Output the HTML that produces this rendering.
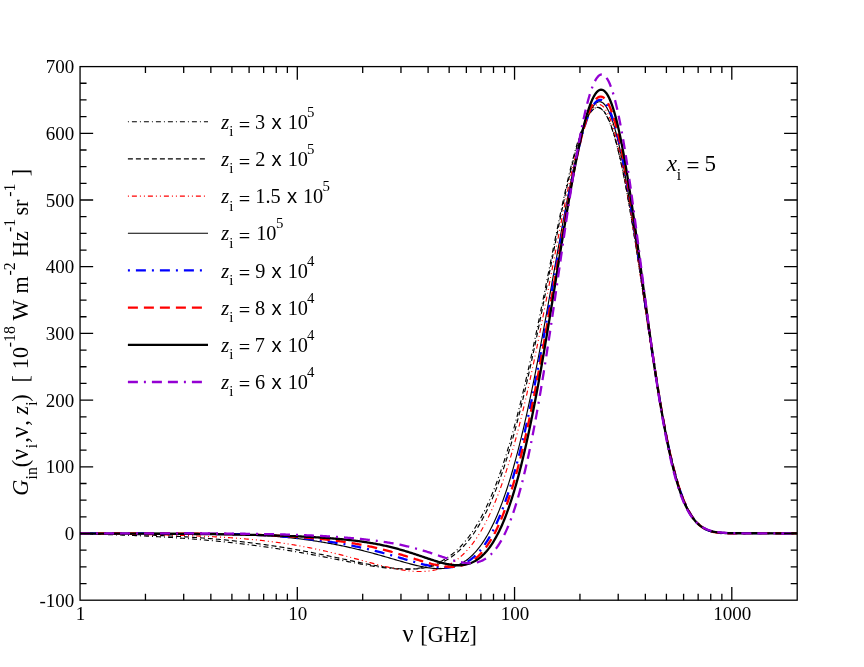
<!DOCTYPE html>
<html><head><meta charset="utf-8"><title>G_in</title>
<style>
html,body{margin:0;padding:0;background:#fff;}
body{width:864px;height:667px;overflow:hidden;}
svg{display:block;will-change:transform;}
text{font-family:"Liberation Serif",serif;fill:#000;white-space:pre;}
.sans{font-family:"Liberation Sans",sans-serif;}
.it{font-style:italic;}
</style></head><body>
<svg width="864" height="667" viewBox="0 0 864 667">
<rect width="864" height="667" fill="#fff"/>
<defs><clipPath id="cp"><rect x="80.05" y="66.6" width="717.15" height="533.6"/></clipPath></defs>
<g clip-path="url(#cp)" fill="none" stroke-linejoin="round">
<path d="M80.05 533.98 L81.05 534 L82.05 534.01 L83.05 534.03 L84.05 534.05 L85.05 534.07 L86.05 534.09 L87.05 534.11 L88.05 534.13 L89.05 534.15 L90.05 534.17 L91.05 534.19 L92.05 534.21 L93.05 534.23 L94.05 534.25 L95.05 534.28 L96.05 534.3 L97.05 534.32 L98.05 534.35 L99.05 534.37 L100.05 534.4 L101.05 534.42 L102.05 534.45 L103.05 534.48 L104.05 534.5 L105.05 534.53 L106.05 534.56 L107.05 534.59 L108.05 534.61 L109.05 534.64 L110.05 534.67 L111.05 534.7 L112.05 534.73 L113.05 534.76 L114.05 534.8 L115.05 534.83 L116.05 534.86 L117.05 534.89 L118.05 534.93 L119.05 534.96 L120.05 535 L121.05 535.03 L122.05 535.07 L123.05 535.1 L124.05 535.14 L125.05 535.18 L126.05 535.21 L127.05 535.25 L128.05 535.29 L129.05 535.33 L130.05 535.37 L131.05 535.41 L132.05 535.45 L133.05 535.49 L134.05 535.53 L135.05 535.58 L136.05 535.62 L137.05 535.66 L138.05 535.71 L139.05 535.75 L140.05 535.8 L141.05 535.84 L142.05 535.89 L143.05 535.93 L144.05 535.98 L145.05 536.03 L146.05 536.08 L147.05 536.13 L148.05 536.18 L149.05 536.23 L150.05 536.28 L151.05 536.33 L152.05 536.38 L153.05 536.43 L154.05 536.49 L155.05 536.54 L156.05 536.59 L157.05 536.65 L158.05 536.7 L159.05 536.76 L160.05 536.82 L161.05 536.87 L162.05 536.93 L163.05 536.99 L164.05 537.05 L165.05 537.11 L166.05 537.17 L167.05 537.23 L168.05 537.29 L169.05 537.35 L170.05 537.42 L171.05 537.48 L172.05 537.54 L173.05 537.61 L174.05 537.67 L175.05 537.74 L176.05 537.81 L177.05 537.87 L178.05 537.94 L179.05 538.01 L180.05 538.08 L181.05 538.15 L182.05 538.22 L183.05 538.29 L184.05 538.36 L185.05 538.44 L186.05 538.51 L187.05 538.58 L188.05 538.66 L189.05 538.73 L190.05 538.81 L191.05 538.89 L192.05 538.96 L193.05 539.04 L194.05 539.12 L195.05 539.2 L196.05 539.28 L197.05 539.36 L198.05 539.44 L199.05 539.53 L200.05 539.61 L201.05 539.7 L202.05 539.78 L203.05 539.87 L204.05 539.95 L205.05 540.04 L206.05 540.13 L207.05 540.22 L208.05 540.31 L209.05 540.4 L210.05 540.49 L211.05 540.58 L212.05 540.67 L213.05 540.77 L214.05 540.86 L215.05 540.96 L216.05 541.05 L217.05 541.15 L218.05 541.25 L219.05 541.35 L220.05 541.45 L221.05 541.55 L222.05 541.65 L223.05 541.75 L224.05 541.85 L225.05 541.96 L226.05 542.06 L227.05 542.17 L228.05 542.27 L229.05 542.38 L230.05 542.49 L231.05 542.6 L232.05 542.71 L233.05 542.82 L234.05 542.93 L235.05 543.04 L236.05 543.16 L237.05 543.27 L238.05 543.39 L239.05 543.5 L240.05 543.62 L241.05 543.74 L242.05 543.86 L243.05 543.98 L244.05 544.1 L245.05 544.22 L246.05 544.34 L247.05 544.47 L248.05 544.59 L249.05 544.72 L250.05 544.84 L251.05 544.97 L252.05 545.1 L253.05 545.23 L254.05 545.36 L255.05 545.49 L256.05 545.63 L257.05 545.76 L258.05 545.89 L259.05 546.03 L260.05 546.17 L261.05 546.3 L262.05 546.44 L263.05 546.58 L264.05 546.72 L265.05 546.86 L266.05 547.01 L267.05 547.15 L268.05 547.29 L269.05 547.44 L270.05 547.59 L271.05 547.74 L272.05 547.88 L273.05 548.03 L274.05 548.18 L275.05 548.34 L276.05 548.49 L277.05 548.64 L278.05 548.8 L279.05 548.95 L280.05 549.11 L281.05 549.27 L282.05 549.43 L283.05 549.59 L284.05 549.75 L285.05 549.91 L286.05 550.07 L287.05 550.24 L288.05 550.4 L289.05 550.57 L290.05 550.73 L291.05 550.9 L292.05 551.07 L293.05 551.24 L294.05 551.41 L295.05 551.58 L296.05 551.75 L297.05 551.93 L298.05 552.1 L299.05 552.28 L300.05 552.45 L301.05 552.63 L302.05 552.81 L303.05 552.99 L304.05 553.16 L305.05 553.35 L306.05 553.53 L307.05 553.71 L308.05 553.89 L309.05 554.08 L310.05 554.26 L311.05 554.45 L312.05 554.63 L313.05 554.82 L314.05 555.01 L315.05 555.19 L316.05 555.38 L317.05 555.57 L318.05 555.76 L319.05 555.95 L320.05 556.14 L321.05 556.34 L322.05 556.53 L323.05 556.72 L324.05 556.92 L325.05 557.11 L326.05 557.3 L327.05 557.5 L328.05 557.69 L329.05 557.89 L330.05 558.09 L331.05 558.28 L332.05 558.48 L333.05 558.67 L334.05 558.87 L335.05 559.07 L336.05 559.27 L337.05 559.46 L338.05 559.66 L339.05 559.86 L340.05 560.05 L341.05 560.25 L342.05 560.45 L343.05 560.65 L344.05 560.84 L345.05 561.04 L346.05 561.23 L347.05 561.43 L348.05 561.63 L349.05 561.82 L350.05 562.01 L351.05 562.21 L352.05 562.4 L353.05 562.59 L354.05 562.78 L355.05 562.97 L356.05 563.16 L357.05 563.35 L358.05 563.54 L359.05 563.72 L360.05 563.91 L361.05 564.09 L362.05 564.27 L363.05 564.45 L364.05 564.63 L365.05 564.81 L366.05 564.98 L367.05 565.16 L368.05 565.33 L369.05 565.5 L370.05 565.66 L371.05 565.83 L372.05 565.99 L373.05 566.15 L374.05 566.31 L375.05 566.46 L376.05 566.61 L377.05 566.76 L378.05 566.91 L379.05 567.05 L380.05 567.19 L381.05 567.33 L382.05 567.46 L383.05 567.59 L384.05 567.71 L385.05 567.83 L386.05 567.94 L387.05 568.06 L388.05 568.16 L389.05 568.26 L390.05 568.36 L391.05 568.45 L392.05 568.54 L393.05 568.62 L394.05 568.7 L395.05 568.77 L396.05 568.83 L397.05 568.89 L398.05 568.94 L399.05 568.98 L400.05 569.02 L401.05 569.05 L402.05 569.08 L403.05 569.09 L404.05 569.1 L405.05 569.1 L406.05 569.09 L407.05 569.08 L408.05 569.05 L409.05 569.02 L410.05 568.97 L411.05 568.92 L412.05 568.86 L413.05 568.78 L414.05 568.7 L415.05 568.6 L416.05 568.5 L417.05 568.38 L418.05 568.25 L419.05 568.11 L420.05 567.96 L421.05 567.8 L422.05 567.62 L423.05 567.43 L424.05 567.22 L425.05 567 L426.05 566.77 L427.05 566.52 L428.05 566.25 L429.05 565.97 L430.05 565.68 L431.05 565.37 L432.05 565.04 L433.05 564.69 L434.05 564.33 L435.05 563.95 L436.05 563.55 L437.05 563.13 L438.05 562.69 L439.05 562.23 L440.05 561.75 L441.05 561.25 L442.05 560.73 L443.05 560.18 L444.05 559.62 L445.05 559.03 L446.05 558.42 L447.05 557.78 L448.05 557.12 L449.05 556.43 L450.05 555.72 L451.05 554.98 L452.05 554.22 L453.05 553.42 L454.05 552.6 L455.05 551.75 L456.05 550.87 L457.05 549.97 L458.05 549.03 L459.05 548.06 L460.05 547.05 L461.05 546.02 L462.05 544.95 L463.05 543.85 L464.05 542.72 L465.05 541.55 L466.05 540.34 L467.05 539.1 L468.05 537.82 L469.05 536.5 L470.05 535.15 L471.05 533.75 L472.05 532.32 L473.05 530.84 L474.05 529.33 L475.05 527.77 L476.05 526.17 L477.05 524.52 L478.05 522.84 L479.05 521.1 L480.05 519.33 L481.05 517.5 L482.05 515.63 L483.05 513.71 L484.05 511.75 L485.05 509.73 L486.05 507.67 L487.05 505.55 L488.05 503.39 L489.05 501.17 L490.05 498.9 L491.05 496.58 L492.05 494.21 L493.05 491.78 L494.05 489.3 L495.05 486.76 L496.05 484.17 L497.05 481.52 L498.05 478.81 L499.05 476.05 L500.05 473.23 L501.05 470.36 L502.05 467.42 L503.05 464.43 L504.05 461.38 L505.05 458.27 L506.05 455.1 L507.05 451.88 L508.05 448.59 L509.05 445.24 L510.05 441.84 L511.05 438.37 L512.05 434.85 L513.05 431.26 L514.05 427.62 L515.05 423.92 L516.05 420.16 L517.05 416.34 L518.05 412.47 L519.05 408.53 L520.05 404.54 L521.05 400.5 L522.05 396.39 L523.05 392.24 L524.05 388.03 L525.05 383.77 L526.05 379.45 L527.05 375.09 L528.05 370.67 L529.05 366.21 L530.05 361.7 L531.05 357.14 L532.05 352.54 L533.05 347.9 L534.05 343.22 L535.05 338.5 L536.05 333.74 L537.05 328.95 L538.05 324.12 L539.05 319.27 L540.05 314.38 L541.05 309.47 L542.05 304.54 L543.05 299.59 L544.05 294.62 L545.05 289.63 L546.05 284.64 L547.05 279.63 L548.05 274.62 L549.05 269.61 L550.05 264.59 L551.05 259.59 L552.05 254.59 L553.05 249.6 L554.05 244.63 L555.05 239.67 L556.05 234.74 L557.05 229.84 L558.05 224.97 L559.05 220.13 L560.05 215.34 L561.05 210.58 L562.05 205.88 L563.05 201.23 L564.05 196.64 L565.05 192.1 L566.05 187.64 L567.05 183.25 L568.05 178.93 L569.05 174.69 L570.05 170.54 L571.05 166.48 L572.05 162.51 L573.05 158.65 L574.05 154.89 L575.05 151.23 L576.05 147.7 L577.05 144.28 L578.05 140.98 L579.05 137.81 L580.05 134.78 L581.05 131.88 L582.05 129.12 L583.05 126.51 L584.05 124.05 L585.05 121.74 L586.05 119.59 L587.05 117.61 L588.05 115.79 L589.05 114.14 L590.05 112.67 L591.05 111.37 L592.05 110.25 L593.05 109.32 L594.05 108.57 L595.05 108.01 L596.05 107.65 L597.05 107.47 L598.05 107.5 L599.05 107.72 L600.05 108.14 L601.05 108.76 L602.05 109.59 L603.05 110.61 L604.05 111.85 L605.05 113.28 L606.05 114.92 L607.05 116.76 L608.05 118.81 L609.05 121.06 L610.05 123.51 L611.05 126.16 L612.05 129.02 L613.05 132.06 L614.05 135.31 L615.05 138.74 L616.05 142.36 L617.05 146.17 L618.05 150.16 L619.05 154.33 L620.05 158.68 L621.05 163.19 L622.05 167.87 L623.05 172.71 L624.05 177.7 L625.05 182.85 L626.05 188.14 L627.05 193.56 L628.05 199.12 L629.05 204.8 L630.05 210.6 L631.05 216.52 L632.05 222.53 L633.05 228.65 L634.05 234.85 L635.05 241.13 L636.05 247.49 L637.05 253.91 L638.05 260.4 L639.05 266.93 L640.05 273.5 L641.05 280.11 L642.05 286.74 L643.05 293.39 L644.05 300.05 L645.05 306.71 L646.05 313.36 L647.05 320 L648.05 326.61 L649.05 333.19 L650.05 339.73 L651.05 346.23 L652.05 352.67 L653.05 359.06 L654.05 365.37 L655.05 371.61 L656.05 377.77 L657.05 383.84 L658.05 389.82 L659.05 395.7 L660.05 401.47 L661.05 407.14 L662.05 412.69 L663.05 418.12 L664.05 423.43 L665.05 428.61 L666.05 433.66 L667.05 438.58 L668.05 443.37 L669.05 448.01 L670.05 452.52 L671.05 456.88 L672.05 461.11 L673.05 465.19 L674.05 469.12 L675.05 472.91 L676.05 476.56 L677.05 480.06 L678.05 483.42 L679.05 486.64 L680.05 489.71 L681.05 492.65 L682.05 495.45 L683.05 498.12 L684.05 500.65 L685.05 503.05 L686.05 505.33 L687.05 507.48 L688.05 509.52 L689.05 511.43 L690.05 513.23 L691.05 514.92 L692.05 516.5 L693.05 517.99 L694.05 519.37 L695.05 520.65 L696.05 521.85 L697.05 522.96 L698.05 523.98 L699.05 524.93 L700.05 525.8 L701.05 526.59 L702.05 527.32 L703.05 527.99 L704.05 528.6 L705.05 529.15 L706.05 529.65 L707.05 530.1 L708.05 530.5 L709.05 530.86 L710.05 531.18 L711.05 531.46 L712.05 531.72 L713.05 531.94 L714.05 532.13 L715.05 532.29 L716.05 532.44 L717.05 532.56 L718.05 532.66 L719.05 532.75 L720.05 532.82 L721.05 532.88 L722.05 532.92 L723.05 532.96 L724.05 532.99 L725.05 533 L726.05 533.02 L727.05 533.03 L728.05 533.03 L729.05 533.03 L730.05 533.03 L731.05 533.02 L732.05 533.01 L733.05 533.01 L734.05 533 L735.05 532.99 L736.05 532.98 L737.05 532.97 L738.05 532.97 L739.05 532.96 L740.05 532.95 L741.05 532.95 L742.05 532.95 L743.05 532.95 L744.05 532.95 L745.05 532.95 L746.05 532.95 L747.05 532.95 L748.05 532.96 L749.05 532.97 L750.05 532.97 L751.05 532.98 L752.05 532.99 L753.05 533 L754.05 533.01 L755.05 533.02 L756.05 533.04 L757.05 533.05 L758.05 533.06 L759.05 533.08 L760.05 533.09 L761.05 533.1 L762.05 533.12 L763.05 533.13 L764.05 533.15 L765.05 533.16 L766.05 533.17 L767.05 533.19 L768.05 533.2 L769.05 533.22 L770.05 533.23 L771.05 533.24 L772.05 533.25 L773.05 533.27 L774.05 533.28 L775.05 533.29 L776.05 533.3 L777.05 533.31 L778.05 533.32 L779.05 533.33 L780.05 533.34 L781.05 533.35 L782.05 533.36 L783.05 533.37 L784.05 533.38 L785.05 533.39 L786.05 533.39 L787.05 533.4 L788.05 533.41 L789.05 533.41 L790.05 533.42 L791.05 533.42 L792.05 533.43 L793.05 533.43 L794.05 533.44 L795.05 533.44 L796.05 533.45 L797.2 533.45" stroke="#000" stroke-width="1.15" stroke-dasharray="1 3 5 3"/>
<path d="M80.05 533.7 L81.05 533.71 L82.05 533.72 L83.05 533.72 L84.05 533.73 L85.05 533.74 L86.05 533.75 L87.05 533.76 L88.05 533.77 L89.05 533.78 L90.05 533.79 L91.05 533.8 L92.05 533.81 L93.05 533.82 L94.05 533.84 L95.05 533.85 L96.05 533.86 L97.05 533.87 L98.05 533.89 L99.05 533.9 L100.05 533.91 L101.05 533.93 L102.05 533.94 L103.05 533.95 L104.05 533.97 L105.05 533.98 L106.05 534 L107.05 534.02 L108.05 534.03 L109.05 534.05 L110.05 534.07 L111.05 534.08 L112.05 534.1 L113.05 534.12 L114.05 534.14 L115.05 534.16 L116.05 534.18 L117.05 534.2 L118.05 534.22 L119.05 534.24 L120.05 534.26 L121.05 534.28 L122.05 534.3 L123.05 534.33 L124.05 534.35 L125.05 534.37 L126.05 534.4 L127.05 534.42 L128.05 534.44 L129.05 534.47 L130.05 534.5 L131.05 534.52 L132.05 534.55 L133.05 534.58 L134.05 534.6 L135.05 534.63 L136.05 534.66 L137.05 534.69 L138.05 534.72 L139.05 534.75 L140.05 534.78 L141.05 534.81 L142.05 534.84 L143.05 534.88 L144.05 534.91 L145.05 534.94 L146.05 534.98 L147.05 535.01 L148.05 535.05 L149.05 535.08 L150.05 535.12 L151.05 535.16 L152.05 535.2 L153.05 535.23 L154.05 535.27 L155.05 535.31 L156.05 535.35 L157.05 535.39 L158.05 535.43 L159.05 535.48 L160.05 535.52 L161.05 535.56 L162.05 535.61 L163.05 535.65 L164.05 535.7 L165.05 535.74 L166.05 535.79 L167.05 535.84 L168.05 535.89 L169.05 535.93 L170.05 535.98 L171.05 536.03 L172.05 536.08 L173.05 536.14 L174.05 536.19 L175.05 536.24 L176.05 536.3 L177.05 536.35 L178.05 536.41 L179.05 536.46 L180.05 536.52 L181.05 536.58 L182.05 536.63 L183.05 536.69 L184.05 536.75 L185.05 536.81 L186.05 536.87 L187.05 536.94 L188.05 537 L189.05 537.06 L190.05 537.13 L191.05 537.19 L192.05 537.26 L193.05 537.33 L194.05 537.4 L195.05 537.46 L196.05 537.53 L197.05 537.6 L198.05 537.68 L199.05 537.75 L200.05 537.82 L201.05 537.89 L202.05 537.97 L203.05 538.04 L204.05 538.12 L205.05 538.2 L206.05 538.28 L207.05 538.36 L208.05 538.44 L209.05 538.52 L210.05 538.6 L211.05 538.68 L212.05 538.77 L213.05 538.85 L214.05 538.94 L215.05 539.02 L216.05 539.11 L217.05 539.2 L218.05 539.29 L219.05 539.38 L220.05 539.47 L221.05 539.56 L222.05 539.66 L223.05 539.75 L224.05 539.85 L225.05 539.94 L226.05 540.04 L227.05 540.14 L228.05 540.24 L229.05 540.34 L230.05 540.44 L231.05 540.54 L232.05 540.65 L233.05 540.75 L234.05 540.86 L235.05 540.96 L236.05 541.07 L237.05 541.18 L238.05 541.29 L239.05 541.4 L240.05 541.51 L241.05 541.63 L242.05 541.74 L243.05 541.86 L244.05 541.97 L245.05 542.09 L246.05 542.21 L247.05 542.33 L248.05 542.45 L249.05 542.57 L250.05 542.7 L251.05 542.82 L252.05 542.95 L253.05 543.07 L254.05 543.2 L255.05 543.33 L256.05 543.46 L257.05 543.59 L258.05 543.72 L259.05 543.86 L260.05 543.99 L261.05 544.13 L262.05 544.27 L263.05 544.4 L264.05 544.54 L265.05 544.68 L266.05 544.83 L267.05 544.97 L268.05 545.11 L269.05 545.26 L270.05 545.41 L271.05 545.55 L272.05 545.7 L273.05 545.85 L274.05 546 L275.05 546.16 L276.05 546.31 L277.05 546.46 L278.05 546.62 L279.05 546.78 L280.05 546.94 L281.05 547.1 L282.05 547.26 L283.05 547.42 L284.05 547.58 L285.05 547.75 L286.05 547.91 L287.05 548.08 L288.05 548.25 L289.05 548.42 L290.05 548.59 L291.05 548.76 L292.05 548.93 L293.05 549.1 L294.05 549.28 L295.05 549.45 L296.05 549.63 L297.05 549.81 L298.05 549.99 L299.05 550.17 L300.05 550.35 L301.05 550.53 L302.05 550.72 L303.05 550.9 L304.05 551.09 L305.05 551.28 L306.05 551.46 L307.05 551.65 L308.05 551.84 L309.05 552.03 L310.05 552.23 L311.05 552.42 L312.05 552.61 L313.05 552.81 L314.05 553.01 L315.05 553.2 L316.05 553.4 L317.05 553.6 L318.05 553.8 L319.05 554 L320.05 554.2 L321.05 554.4 L322.05 554.6 L323.05 554.81 L324.05 555.01 L325.05 555.22 L326.05 555.42 L327.05 555.63 L328.05 555.84 L329.05 556.04 L330.05 556.25 L331.05 556.46 L332.05 556.67 L333.05 556.88 L334.05 557.09 L335.05 557.3 L336.05 557.51 L337.05 557.72 L338.05 557.93 L339.05 558.15 L340.05 558.36 L341.05 558.57 L342.05 558.78 L343.05 559 L344.05 559.21 L345.05 559.42 L346.05 559.63 L347.05 559.85 L348.05 560.06 L349.05 560.27 L350.05 560.48 L351.05 560.69 L352.05 560.9 L353.05 561.11 L354.05 561.32 L355.05 561.53 L356.05 561.74 L357.05 561.95 L358.05 562.16 L359.05 562.36 L360.05 562.57 L361.05 562.77 L362.05 562.97 L363.05 563.18 L364.05 563.38 L365.05 563.57 L366.05 563.77 L367.05 563.97 L368.05 564.16 L369.05 564.36 L370.05 564.55 L371.05 564.74 L372.05 564.92 L373.05 565.11 L374.05 565.29 L375.05 565.47 L376.05 565.65 L377.05 565.82 L378.05 565.99 L379.05 566.16 L380.05 566.33 L381.05 566.49 L382.05 566.65 L383.05 566.81 L384.05 566.96 L385.05 567.11 L386.05 567.26 L387.05 567.4 L388.05 567.53 L389.05 567.67 L390.05 567.8 L391.05 567.92 L392.05 568.04 L393.05 568.15 L394.05 568.26 L395.05 568.36 L396.05 568.46 L397.05 568.55 L398.05 568.64 L399.05 568.72 L400.05 568.79 L401.05 568.86 L402.05 568.92 L403.05 568.97 L404.05 569.01 L405.05 569.05 L406.05 569.08 L407.05 569.1 L408.05 569.12 L409.05 569.12 L410.05 569.12 L411.05 569.1 L412.05 569.08 L413.05 569.05 L414.05 569.01 L415.05 568.96 L416.05 568.89 L417.05 568.82 L418.05 568.73 L419.05 568.64 L420.05 568.53 L421.05 568.41 L422.05 568.28 L423.05 568.13 L424.05 567.97 L425.05 567.8 L426.05 567.61 L427.05 567.41 L428.05 567.2 L429.05 566.97 L430.05 566.72 L431.05 566.46 L432.05 566.18 L433.05 565.89 L434.05 565.58 L435.05 565.25 L436.05 564.9 L437.05 564.53 L438.05 564.15 L439.05 563.74 L440.05 563.32 L441.05 562.87 L442.05 562.41 L443.05 561.92 L444.05 561.41 L445.05 560.88 L446.05 560.33 L447.05 559.75 L448.05 559.15 L449.05 558.52 L450.05 557.87 L451.05 557.19 L452.05 556.48 L453.05 555.75 L454.05 554.99 L455.05 554.21 L456.05 553.39 L457.05 552.55 L458.05 551.67 L459.05 550.77 L460.05 549.83 L461.05 548.86 L462.05 547.86 L463.05 546.82 L464.05 545.75 L465.05 544.65 L466.05 543.51 L467.05 542.33 L468.05 541.12 L469.05 539.87 L470.05 538.59 L471.05 537.26 L472.05 535.89 L473.05 534.49 L474.05 533.04 L475.05 531.55 L476.05 530.02 L477.05 528.45 L478.05 526.83 L479.05 525.16 L480.05 523.46 L481.05 521.7 L482.05 519.9 L483.05 518.05 L484.05 516.15 L485.05 514.21 L486.05 512.21 L487.05 510.16 L488.05 508.07 L489.05 505.92 L490.05 503.71 L491.05 501.46 L492.05 499.15 L493.05 496.79 L494.05 494.37 L495.05 491.9 L496.05 489.37 L497.05 486.78 L498.05 484.14 L499.05 481.43 L500.05 478.67 L501.05 475.85 L502.05 472.98 L503.05 470.04 L504.05 467.04 L505.05 463.98 L506.05 460.86 L507.05 457.68 L508.05 454.44 L509.05 451.14 L510.05 447.78 L511.05 444.35 L512.05 440.87 L513.05 437.32 L514.05 433.71 L515.05 430.04 L516.05 426.31 L517.05 422.52 L518.05 418.66 L519.05 414.75 L520.05 410.78 L521.05 406.75 L522.05 402.65 L523.05 398.51 L524.05 394.3 L525.05 390.04 L526.05 385.72 L527.05 381.35 L528.05 376.93 L529.05 372.45 L530.05 367.93 L531.05 363.35 L532.05 358.73 L533.05 354.06 L534.05 349.34 L535.05 344.58 L536.05 339.79 L537.05 334.95 L538.05 330.08 L539.05 325.17 L540.05 320.23 L541.05 315.26 L542.05 310.27 L543.05 305.25 L544.05 300.21 L545.05 295.15 L546.05 290.07 L547.05 284.98 L548.05 279.88 L549.05 274.78 L550.05 269.68 L551.05 264.57 L552.05 259.47 L553.05 254.38 L554.05 249.3 L555.05 244.24 L556.05 239.2 L557.05 234.18 L558.05 229.2 L559.05 224.24 L560.05 219.33 L561.05 214.45 L562.05 209.63 L563.05 204.85 L564.05 200.13 L565.05 195.47 L566.05 190.88 L567.05 186.36 L568.05 181.91 L569.05 177.55 L570.05 173.27 L571.05 169.08 L572.05 164.99 L573.05 160.99 L574.05 157.1 L575.05 153.33 L576.05 149.67 L577.05 146.12 L578.05 142.71 L579.05 139.42 L580.05 136.27 L581.05 133.26 L582.05 130.39 L583.05 127.67 L584.05 125.1 L585.05 122.69 L586.05 120.44 L587.05 118.36 L588.05 116.45 L589.05 114.71 L590.05 113.15 L591.05 111.77 L592.05 110.57 L593.05 109.56 L594.05 108.74 L595.05 108.11 L596.05 107.68 L597.05 107.44 L598.05 107.41 L599.05 107.57 L600.05 107.94 L601.05 108.52 L602.05 109.3 L603.05 110.28 L604.05 111.47 L605.05 112.87 L606.05 114.48 L607.05 116.29 L608.05 118.31 L609.05 120.54 L610.05 122.97 L611.05 125.6 L612.05 128.43 L613.05 131.46 L614.05 134.69 L615.05 138.11 L616.05 141.72 L617.05 145.52 L618.05 149.5 L619.05 153.66 L620.05 158 L621.05 162.51 L622.05 167.19 L623.05 172.02 L624.05 177.01 L625.05 182.16 L626.05 187.44 L627.05 192.87 L628.05 198.42 L629.05 204.1 L630.05 209.9 L631.05 215.81 L632.05 221.83 L633.05 227.94 L634.05 234.14 L635.05 240.43 L636.05 246.79 L637.05 253.21 L638.05 259.69 L639.05 266.22 L640.05 272.8 L641.05 279.4 L642.05 286.04 L643.05 292.69 L644.05 299.35 L645.05 306.01 L646.05 312.66 L647.05 319.3 L648.05 325.92 L649.05 332.51 L650.05 339.05 L651.05 345.55 L652.05 352 L653.05 358.39 L654.05 364.71 L655.05 370.96 L656.05 377.13 L657.05 383.21 L658.05 389.2 L659.05 395.09 L660.05 400.88 L661.05 406.55 L662.05 412.12 L663.05 417.57 L664.05 422.89 L665.05 428.09 L666.05 433.16 L667.05 438.1 L668.05 442.9 L669.05 447.57 L670.05 452.1 L671.05 456.48 L672.05 460.72 L673.05 464.83 L674.05 468.78 L675.05 472.59 L676.05 476.26 L677.05 479.79 L678.05 483.17 L679.05 486.41 L680.05 489.5 L681.05 492.46 L682.05 495.28 L683.05 497.97 L684.05 500.52 L685.05 502.95 L686.05 505.24 L687.05 507.41 L688.05 509.46 L689.05 511.39 L690.05 513.2 L691.05 514.91 L692.05 516.5 L693.05 518 L694.05 519.39 L695.05 520.68 L696.05 521.89 L697.05 523 L698.05 524.03 L699.05 524.99 L700.05 525.86 L701.05 526.66 L702.05 527.4 L703.05 528.06 L704.05 528.67 L705.05 529.22 L706.05 529.72 L707.05 530.17 L708.05 530.57 L709.05 530.93 L710.05 531.25 L711.05 531.53 L712.05 531.77 L713.05 531.99 L714.05 532.17 L715.05 532.34 L716.05 532.47 L717.05 532.59 L718.05 532.69 L719.05 532.77 L720.05 532.83 L721.05 532.89 L722.05 532.93 L723.05 532.96 L724.05 532.98 L725.05 532.99 L726.05 533 L727.05 533 L728.05 533 L729.05 533 L730.05 532.99 L731.05 532.98 L732.05 532.97 L733.05 532.96 L734.05 532.95 L735.05 532.94 L736.05 532.93 L737.05 532.92 L738.05 532.91 L739.05 532.91 L740.05 532.9 L741.05 532.9 L742.05 532.89 L743.05 532.89 L744.05 532.89 L745.05 532.89 L746.05 532.9 L747.05 532.9 L748.05 532.91 L749.05 532.92 L750.05 532.92 L751.05 532.93 L752.05 532.94 L753.05 532.96 L754.05 532.97 L755.05 532.98 L756.05 533 L757.05 533.01 L758.05 533.03 L759.05 533.04 L760.05 533.06 L761.05 533.07 L762.05 533.09 L763.05 533.11 L764.05 533.12 L765.05 533.14 L766.05 533.15 L767.05 533.17 L768.05 533.18 L769.05 533.2 L770.05 533.21 L771.05 533.23 L772.05 533.24 L773.05 533.26 L774.05 533.27 L775.05 533.28 L776.05 533.29 L777.05 533.31 L778.05 533.32 L779.05 533.33 L780.05 533.34 L781.05 533.35 L782.05 533.36 L783.05 533.37 L784.05 533.38 L785.05 533.38 L786.05 533.39 L787.05 533.4 L788.05 533.41 L789.05 533.41 L790.05 533.42 L791.05 533.42 L792.05 533.43 L793.05 533.43 L794.05 533.44 L795.05 533.44 L796.05 533.45 L797.2 533.45" stroke="#000" stroke-width="1.15" stroke-dasharray="5 3"/>
<path d="M80.05 533.89 L81.05 533.9 L82.05 533.9 L83.05 533.91 L84.05 533.92 L85.05 533.92 L86.05 533.93 L87.05 533.94 L88.05 533.94 L89.05 533.95 L90.05 533.96 L91.05 533.96 L92.05 533.97 L93.05 533.98 L94.05 533.99 L95.05 533.99 L96.05 534 L97.05 534.01 L98.05 534.02 L99.05 534.03 L100.05 534.03 L101.05 534.04 L102.05 534.05 L103.05 534.06 L104.05 534.07 L105.05 534.08 L106.05 534.09 L107.05 534.1 L108.05 534.11 L109.05 534.11 L110.05 534.12 L111.05 534.13 L112.05 534.14 L113.05 534.15 L114.05 534.16 L115.05 534.18 L116.05 534.19 L117.05 534.2 L118.05 534.21 L119.05 534.22 L120.05 534.23 L121.05 534.24 L122.05 534.25 L123.05 534.27 L124.05 534.28 L125.05 534.29 L126.05 534.3 L127.05 534.32 L128.05 534.33 L129.05 534.34 L130.05 534.35 L131.05 534.37 L132.05 534.38 L133.05 534.4 L134.05 534.41 L135.05 534.42 L136.05 534.44 L137.05 534.45 L138.05 534.47 L139.05 534.49 L140.05 534.5 L141.05 534.52 L142.05 534.53 L143.05 534.55 L144.05 534.57 L145.05 534.58 L146.05 534.6 L147.05 534.62 L148.05 534.64 L149.05 534.65 L150.05 534.67 L151.05 534.69 L152.05 534.71 L153.05 534.73 L154.05 534.75 L155.05 534.77 L156.05 534.79 L157.05 534.81 L158.05 534.83 L159.05 534.85 L160.05 534.87 L161.05 534.9 L162.05 534.92 L163.05 534.94 L164.05 534.96 L165.05 534.99 L166.05 535.01 L167.05 535.04 L168.05 535.06 L169.05 535.09 L170.05 535.11 L171.05 535.14 L172.05 535.16 L173.05 535.19 L174.05 535.22 L175.05 535.25 L176.05 535.27 L177.05 535.3 L178.05 535.33 L179.05 535.36 L180.05 535.39 L181.05 535.42 L182.05 535.45 L183.05 535.49 L184.05 535.52 L185.05 535.55 L186.05 535.58 L187.05 535.62 L188.05 535.65 L189.05 535.69 L190.05 535.72 L191.05 535.76 L192.05 535.79 L193.05 535.83 L194.05 535.87 L195.05 535.91 L196.05 535.95 L197.05 535.99 L198.05 536.03 L199.05 536.07 L200.05 536.11 L201.05 536.15 L202.05 536.2 L203.05 536.24 L204.05 536.28 L205.05 536.33 L206.05 536.38 L207.05 536.42 L208.05 536.47 L209.05 536.52 L210.05 536.57 L211.05 536.62 L212.05 536.67 L213.05 536.72 L214.05 536.77 L215.05 536.83 L216.05 536.88 L217.05 536.93 L218.05 536.99 L219.05 537.05 L220.05 537.1 L221.05 537.16 L222.05 537.22 L223.05 537.28 L224.05 537.34 L225.05 537.41 L226.05 537.47 L227.05 537.53 L228.05 537.6 L229.05 537.67 L230.05 537.73 L231.05 537.8 L232.05 537.87 L233.05 537.94 L234.05 538.02 L235.05 538.09 L236.05 538.16 L237.05 538.24 L238.05 538.31 L239.05 538.39 L240.05 538.47 L241.05 538.55 L242.05 538.63 L243.05 538.71 L244.05 538.8 L245.05 538.88 L246.05 538.97 L247.05 539.06 L248.05 539.15 L249.05 539.24 L250.05 539.33 L251.05 539.42 L252.05 539.52 L253.05 539.61 L254.05 539.71 L255.05 539.81 L256.05 539.91 L257.05 540.01 L258.05 540.11 L259.05 540.22 L260.05 540.32 L261.05 540.43 L262.05 540.54 L263.05 540.65 L264.05 540.76 L265.05 540.88 L266.05 540.99 L267.05 541.11 L268.05 541.23 L269.05 541.35 L270.05 541.47 L271.05 541.59 L272.05 541.72 L273.05 541.85 L274.05 541.97 L275.05 542.1 L276.05 542.24 L277.05 542.37 L278.05 542.51 L279.05 542.64 L280.05 542.78 L281.05 542.93 L282.05 543.07 L283.05 543.21 L284.05 543.36 L285.05 543.51 L286.05 543.66 L287.05 543.81 L288.05 543.97 L289.05 544.12 L290.05 544.28 L291.05 544.44 L292.05 544.6 L293.05 544.77 L294.05 544.93 L295.05 545.1 L296.05 545.27 L297.05 545.44 L298.05 545.61 L299.05 545.79 L300.05 545.97 L301.05 546.15 L302.05 546.33 L303.05 546.51 L304.05 546.7 L305.05 546.89 L306.05 547.08 L307.05 547.27 L308.05 547.46 L309.05 547.66 L310.05 547.85 L311.05 548.05 L312.05 548.25 L313.05 548.46 L314.05 548.66 L315.05 548.87 L316.05 549.08 L317.05 549.29 L318.05 549.51 L319.05 549.72 L320.05 549.94 L321.05 550.16 L322.05 550.38 L323.05 550.6 L324.05 550.83 L325.05 551.05 L326.05 551.28 L327.05 551.51 L328.05 551.75 L329.05 551.98 L330.05 552.22 L331.05 552.45 L332.05 552.69 L333.05 552.93 L334.05 553.18 L335.05 553.42 L336.05 553.67 L337.05 553.91 L338.05 554.16 L339.05 554.41 L340.05 554.66 L341.05 554.92 L342.05 555.17 L343.05 555.43 L344.05 555.69 L345.05 555.94 L346.05 556.2 L347.05 556.46 L348.05 556.73 L349.05 556.99 L350.05 557.25 L351.05 557.52 L352.05 557.78 L353.05 558.05 L354.05 558.32 L355.05 558.58 L356.05 558.85 L357.05 559.12 L358.05 559.39 L359.05 559.66 L360.05 559.93 L361.05 560.2 L362.05 560.47 L363.05 560.74 L364.05 561.01 L365.05 561.28 L366.05 561.55 L367.05 561.82 L368.05 562.09 L369.05 562.35 L370.05 562.62 L371.05 562.89 L372.05 563.15 L373.05 563.42 L374.05 563.68 L375.05 563.94 L376.05 564.2 L377.05 564.46 L378.05 564.72 L379.05 564.98 L380.05 565.23 L381.05 565.48 L382.05 565.73 L383.05 565.98 L384.05 566.22 L385.05 566.46 L386.05 566.7 L387.05 566.93 L388.05 567.17 L389.05 567.39 L390.05 567.62 L391.05 567.84 L392.05 568.06 L393.05 568.27 L394.05 568.48 L395.05 568.68 L396.05 568.88 L397.05 569.08 L398.05 569.26 L399.05 569.45 L400.05 569.62 L401.05 569.79 L402.05 569.96 L403.05 570.12 L404.05 570.27 L405.05 570.41 L406.05 570.55 L407.05 570.68 L408.05 570.8 L409.05 570.92 L410.05 571.02 L411.05 571.12 L412.05 571.21 L413.05 571.29 L414.05 571.36 L415.05 571.41 L416.05 571.46 L417.05 571.5 L418.05 571.53 L419.05 571.54 L420.05 571.55 L421.05 571.54 L422.05 571.52 L423.05 571.49 L424.05 571.44 L425.05 571.38 L426.05 571.31 L427.05 571.22 L428.05 571.12 L429.05 571 L430.05 570.87 L431.05 570.72 L432.05 570.55 L433.05 570.37 L434.05 570.17 L435.05 569.95 L436.05 569.71 L437.05 569.46 L438.05 569.19 L439.05 568.89 L440.05 568.58 L441.05 568.24 L442.05 567.88 L443.05 567.51 L444.05 567.11 L445.05 566.68 L446.05 566.23 L447.05 565.76 L448.05 565.27 L449.05 564.75 L450.05 564.2 L451.05 563.63 L452.05 563.03 L453.05 562.4 L454.05 561.74 L455.05 561.06 L456.05 560.34 L457.05 559.6 L458.05 558.82 L459.05 558.02 L460.05 557.18 L461.05 556.3 L462.05 555.4 L463.05 554.46 L464.05 553.49 L465.05 552.48 L466.05 551.43 L467.05 550.35 L468.05 549.23 L469.05 548.07 L470.05 546.87 L471.05 545.64 L472.05 544.36 L473.05 543.04 L474.05 541.68 L475.05 540.28 L476.05 538.83 L477.05 537.34 L478.05 535.81 L479.05 534.23 L480.05 532.6 L481.05 530.92 L482.05 529.2 L483.05 527.43 L484.05 525.61 L485.05 523.74 L486.05 521.82 L487.05 519.85 L488.05 517.83 L489.05 515.75 L490.05 513.62 L491.05 511.44 L492.05 509.2 L493.05 506.91 L494.05 504.56 L495.05 502.16 L496.05 499.69 L497.05 497.17 L498.05 494.59 L499.05 491.96 L500.05 489.26 L501.05 486.5 L502.05 483.69 L503.05 480.81 L504.05 477.87 L505.05 474.87 L506.05 471.81 L507.05 468.68 L508.05 465.5 L509.05 462.25 L510.05 458.94 L511.05 455.56 L512.05 452.12 L513.05 448.62 L514.05 445.06 L515.05 441.43 L516.05 437.74 L517.05 433.98 L518.05 430.17 L519.05 426.29 L520.05 422.35 L521.05 418.35 L522.05 414.28 L523.05 410.16 L524.05 405.97 L525.05 401.73 L526.05 397.43 L527.05 393.07 L528.05 388.65 L529.05 384.18 L530.05 379.65 L531.05 375.07 L532.05 370.43 L533.05 365.75 L534.05 361.02 L535.05 356.23 L536.05 351.41 L537.05 346.53 L538.05 341.62 L539.05 336.66 L540.05 331.67 L541.05 326.64 L542.05 321.57 L543.05 316.48 L544.05 311.36 L545.05 306.2 L546.05 301.03 L547.05 295.84 L548.05 290.63 L549.05 285.4 L550.05 280.16 L551.05 274.92 L552.05 269.67 L553.05 264.42 L554.05 259.18 L555.05 253.94 L556.05 248.72 L557.05 243.51 L558.05 238.31 L559.05 233.15 L560.05 228.01 L561.05 222.91 L562.05 217.84 L563.05 212.81 L564.05 207.84 L565.05 202.91 L566.05 198.05 L567.05 193.24 L568.05 188.51 L569.05 183.84 L570.05 179.26 L571.05 174.76 L572.05 170.35 L573.05 166.03 L574.05 161.81 L575.05 157.7 L576.05 153.7 L577.05 149.82 L578.05 146.06 L579.05 142.43 L580.05 138.93 L581.05 135.57 L582.05 132.35 L583.05 129.28 L584.05 126.37 L585.05 123.62 L586.05 121.03 L587.05 118.62 L588.05 116.37 L589.05 114.31 L590.05 112.43 L591.05 110.74 L592.05 109.25 L593.05 107.94 L594.05 106.84 L595.05 105.95 L596.05 105.26 L597.05 104.78 L598.05 104.51 L599.05 104.46 L600.05 104.63 L601.05 105.01 L602.05 105.62 L603.05 106.45 L604.05 107.51 L605.05 108.79 L606.05 110.29 L607.05 112.02 L608.05 113.97 L609.05 116.15 L610.05 118.55 L611.05 121.17 L612.05 124.01 L613.05 127.07 L614.05 130.34 L615.05 133.82 L616.05 137.51 L617.05 141.4 L618.05 145.5 L619.05 149.78 L620.05 154.26 L621.05 158.93 L622.05 163.77 L623.05 168.79 L624.05 173.97 L625.05 179.32 L626.05 184.82 L627.05 190.47 L628.05 196.25 L629.05 202.17 L630.05 208.21 L631.05 214.36 L632.05 220.63 L633.05 226.99 L634.05 233.44 L635.05 239.97 L636.05 246.57 L637.05 253.24 L638.05 259.96 L639.05 266.73 L640.05 273.53 L641.05 280.35 L642.05 287.2 L643.05 294.05 L644.05 300.9 L645.05 307.74 L646.05 314.57 L647.05 321.36 L648.05 328.12 L649.05 334.84 L650.05 341.5 L651.05 348.11 L652.05 354.64 L653.05 361.1 L654.05 367.48 L655.05 373.77 L656.05 379.97 L657.05 386.07 L658.05 392.06 L659.05 397.93 L660.05 403.7 L661.05 409.33 L662.05 414.85 L663.05 420.23 L664.05 425.48 L665.05 430.6 L666.05 435.58 L667.05 440.41 L668.05 445.1 L669.05 449.65 L670.05 454.06 L671.05 458.31 L672.05 462.43 L673.05 466.39 L674.05 470.21 L675.05 473.88 L676.05 477.41 L677.05 480.79 L678.05 484.03 L679.05 487.13 L680.05 490.1 L681.05 492.93 L682.05 495.62 L683.05 498.19 L684.05 500.62 L685.05 502.93 L686.05 505.12 L687.05 507.2 L688.05 509.15 L689.05 511 L690.05 512.74 L691.05 514.38 L692.05 515.91 L693.05 517.36 L694.05 518.7 L695.05 519.96 L696.05 521.14 L697.05 522.24 L698.05 523.26 L699.05 524.2 L700.05 525.08 L701.05 525.89 L702.05 526.64 L703.05 527.33 L704.05 527.96 L705.05 528.55 L706.05 529.08 L707.05 529.57 L708.05 530.02 L709.05 530.42 L710.05 530.79 L711.05 531.12 L712.05 531.42 L713.05 531.7 L714.05 531.94 L715.05 532.16 L716.05 532.35 L717.05 532.53 L718.05 532.68 L719.05 532.82 L720.05 532.94 L721.05 533.04 L722.05 533.13 L723.05 533.21 L724.05 533.28 L725.05 533.34 L726.05 533.39 L727.05 533.43 L728.05 533.46 L729.05 533.49 L730.05 533.51 L731.05 533.53 L732.05 533.54 L733.05 533.55 L734.05 533.55 L735.05 533.56 L736.05 533.56 L737.05 533.56 L738.05 533.55 L739.05 533.55 L740.05 533.54 L741.05 533.53 L742.05 533.52 L743.05 533.51 L744.05 533.5 L745.05 533.49 L746.05 533.48 L747.05 533.47 L748.05 533.46 L749.05 533.45 L750.05 533.44 L751.05 533.43 L752.05 533.42 L753.05 533.41 L754.05 533.4 L755.05 533.39 L756.05 533.38 L757.05 533.37 L758.05 533.36 L759.05 533.36 L760.05 533.35 L761.05 533.34 L762.05 533.33 L763.05 533.33 L764.05 533.32 L765.05 533.31 L766.05 533.31 L767.05 533.3 L768.05 533.3 L769.05 533.29 L770.05 533.29 L771.05 533.29 L772.05 533.28 L773.05 533.28 L774.05 533.27 L775.05 533.27 L776.05 533.27 L777.05 533.27 L778.05 533.26 L779.05 533.26 L780.05 533.26 L781.05 533.26 L782.05 533.26 L783.05 533.26 L784.05 533.26 L785.05 533.26 L786.05 533.26 L787.05 533.26 L788.05 533.25 L789.05 533.25 L790.05 533.26 L791.05 533.26 L792.05 533.26 L793.05 533.26 L794.05 533.26 L795.05 533.26 L796.05 533.26 L797.2 533.26" stroke="#f00" stroke-width="1.15" stroke-dasharray="1 3 1 3 5 3" stroke-dashoffset="4"/>
<path d="M80.05 533.46 L81.05 533.46 L82.05 533.46 L83.05 533.46 L84.05 533.46 L85.05 533.45 L86.05 533.45 L87.05 533.45 L88.05 533.45 L89.05 533.45 L90.05 533.45 L91.05 533.45 L92.05 533.45 L93.05 533.45 L94.05 533.45 L95.05 533.44 L96.05 533.44 L97.05 533.44 L98.05 533.44 L99.05 533.44 L100.05 533.44 L101.05 533.44 L102.05 533.44 L103.05 533.43 L104.05 533.43 L105.05 533.43 L106.05 533.43 L107.05 533.43 L108.05 533.43 L109.05 533.43 L110.05 533.42 L111.05 533.42 L112.05 533.42 L113.05 533.42 L114.05 533.42 L115.05 533.42 L116.05 533.41 L117.05 533.41 L118.05 533.41 L119.05 533.41 L120.05 533.41 L121.05 533.41 L122.05 533.4 L123.05 533.4 L124.05 533.4 L125.05 533.4 L126.05 533.4 L127.05 533.39 L128.05 533.39 L129.05 533.39 L130.05 533.39 L131.05 533.39 L132.05 533.39 L133.05 533.38 L134.05 533.38 L135.05 533.38 L136.05 533.38 L137.05 533.38 L138.05 533.37 L139.05 533.37 L140.05 533.37 L141.05 533.37 L142.05 533.37 L143.05 533.36 L144.05 533.36 L145.05 533.36 L146.05 533.36 L147.05 533.36 L148.05 533.35 L149.05 533.35 L150.05 533.35 L151.05 533.35 L152.05 533.35 L153.05 533.34 L154.05 533.34 L155.05 533.34 L156.05 533.34 L157.05 533.34 L158.05 533.34 L159.05 533.34 L160.05 533.33 L161.05 533.33 L162.05 533.33 L163.05 533.33 L164.05 533.33 L165.05 533.33 L166.05 533.33 L167.05 533.33 L168.05 533.33 L169.05 533.33 L170.05 533.33 L171.05 533.33 L172.05 533.33 L173.05 533.33 L174.05 533.33 L175.05 533.33 L176.05 533.33 L177.05 533.33 L178.05 533.33 L179.05 533.33 L180.05 533.34 L181.05 533.34 L182.05 533.34 L183.05 533.34 L184.05 533.34 L185.05 533.35 L186.05 533.35 L187.05 533.35 L188.05 533.36 L189.05 533.36 L190.05 533.37 L191.05 533.37 L192.05 533.38 L193.05 533.38 L194.05 533.39 L195.05 533.39 L196.05 533.4 L197.05 533.41 L198.05 533.42 L199.05 533.42 L200.05 533.43 L201.05 533.44 L202.05 533.45 L203.05 533.46 L204.05 533.47 L205.05 533.48 L206.05 533.49 L207.05 533.51 L208.05 533.52 L209.05 533.53 L210.05 533.55 L211.05 533.56 L212.05 533.57 L213.05 533.59 L214.05 533.61 L215.05 533.62 L216.05 533.64 L217.05 533.66 L218.05 533.68 L219.05 533.7 L220.05 533.72 L221.05 533.74 L222.05 533.76 L223.05 533.78 L224.05 533.81 L225.05 533.83 L226.05 533.85 L227.05 533.88 L228.05 533.91 L229.05 533.93 L230.05 533.96 L231.05 533.99 L232.05 534.02 L233.05 534.05 L234.05 534.08 L235.05 534.12 L236.05 534.15 L237.05 534.18 L238.05 534.22 L239.05 534.26 L240.05 534.29 L241.05 534.33 L242.05 534.37 L243.05 534.41 L244.05 534.46 L245.05 534.5 L246.05 534.54 L247.05 534.59 L248.05 534.63 L249.05 534.68 L250.05 534.73 L251.05 534.78 L252.05 534.83 L253.05 534.88 L254.05 534.94 L255.05 534.99 L256.05 535.05 L257.05 535.1 L258.05 535.16 L259.05 535.22 L260.05 535.28 L261.05 535.35 L262.05 535.41 L263.05 535.47 L264.05 535.54 L265.05 535.61 L266.05 535.68 L267.05 535.75 L268.05 535.82 L269.05 535.89 L270.05 535.97 L271.05 536.04 L272.05 536.12 L273.05 536.2 L274.05 536.28 L275.05 536.36 L276.05 536.44 L277.05 536.53 L278.05 536.62 L279.05 536.7 L280.05 536.79 L281.05 536.88 L282.05 536.98 L283.05 537.07 L284.05 537.17 L285.05 537.26 L286.05 537.36 L287.05 537.46 L288.05 537.57 L289.05 537.67 L290.05 537.78 L291.05 537.88 L292.05 537.99 L293.05 538.1 L294.05 538.21 L295.05 538.33 L296.05 538.44 L297.05 538.56 L298.05 538.68 L299.05 538.8 L300.05 538.92 L301.05 539.05 L302.05 539.18 L303.05 539.3 L304.05 539.43 L305.05 539.57 L306.05 539.7 L307.05 539.84 L308.05 539.97 L309.05 540.11 L310.05 540.25 L311.05 540.4 L312.05 540.54 L313.05 540.69 L314.05 540.84 L315.05 540.99 L316.05 541.14 L317.05 541.3 L318.05 541.45 L319.05 541.61 L320.05 541.77 L321.05 541.93 L322.05 542.1 L323.05 542.27 L324.05 542.43 L325.05 542.6 L326.05 542.78 L327.05 542.95 L328.05 543.13 L329.05 543.31 L330.05 543.49 L331.05 543.67 L332.05 543.86 L333.05 544.05 L334.05 544.24 L335.05 544.43 L336.05 544.62 L337.05 544.82 L338.05 545.02 L339.05 545.22 L340.05 545.42 L341.05 545.62 L342.05 545.83 L343.05 546.04 L344.05 546.25 L345.05 546.47 L346.05 546.68 L347.05 546.9 L348.05 547.12 L349.05 547.34 L350.05 547.57 L351.05 547.79 L352.05 548.02 L353.05 548.25 L354.05 548.49 L355.05 548.72 L356.05 548.96 L357.05 549.2 L358.05 549.44 L359.05 549.68 L360.05 549.93 L361.05 550.18 L362.05 550.43 L363.05 550.68 L364.05 550.94 L365.05 551.19 L366.05 551.45 L367.05 551.71 L368.05 551.97 L369.05 552.24 L370.05 552.5 L371.05 552.77 L372.05 553.04 L373.05 553.31 L374.05 553.59 L375.05 553.86 L376.05 554.14 L377.05 554.42 L378.05 554.7 L379.05 554.98 L380.05 555.26 L381.05 555.54 L382.05 555.83 L383.05 556.11 L384.05 556.4 L385.05 556.69 L386.05 556.98 L387.05 557.27 L388.05 557.56 L389.05 557.85 L390.05 558.14 L391.05 558.43 L392.05 558.72 L393.05 559.01 L394.05 559.3 L395.05 559.6 L396.05 559.89 L397.05 560.18 L398.05 560.47 L399.05 560.76 L400.05 561.05 L401.05 561.33 L402.05 561.62 L403.05 561.9 L404.05 562.18 L405.05 562.46 L406.05 562.74 L407.05 563.02 L408.05 563.29 L409.05 563.56 L410.05 563.83 L411.05 564.09 L412.05 564.35 L413.05 564.6 L414.05 564.85 L415.05 565.1 L416.05 565.34 L417.05 565.58 L418.05 565.81 L419.05 566.03 L420.05 566.25 L421.05 566.46 L422.05 566.66 L423.05 566.86 L424.05 567.05 L425.05 567.23 L426.05 567.4 L427.05 567.56 L428.05 567.71 L429.05 567.85 L430.05 567.98 L431.05 568.1 L432.05 568.21 L433.05 568.31 L434.05 568.39 L435.05 568.46 L436.05 568.52 L437.05 568.56 L438.05 568.59 L439.05 568.6 L440.05 568.59 L441.05 568.57 L442.05 568.53 L443.05 568.47 L444.05 568.4 L445.05 568.3 L446.05 568.18 L447.05 568.05 L448.05 567.89 L449.05 567.71 L450.05 567.5 L451.05 567.27 L452.05 567.02 L453.05 566.74 L454.05 566.44 L455.05 566.11 L456.05 565.75 L457.05 565.36 L458.05 564.94 L459.05 564.49 L460.05 564.01 L461.05 563.5 L462.05 562.95 L463.05 562.37 L464.05 561.76 L465.05 561.1 L466.05 560.42 L467.05 559.69 L468.05 558.93 L469.05 558.12 L470.05 557.28 L471.05 556.39 L472.05 555.46 L473.05 554.49 L474.05 553.47 L475.05 552.41 L476.05 551.3 L477.05 550.14 L478.05 548.93 L479.05 547.67 L480.05 546.37 L481.05 545.01 L482.05 543.6 L483.05 542.13 L484.05 540.61 L485.05 539.04 L486.05 537.4 L487.05 535.71 L488.05 533.96 L489.05 532.16 L490.05 530.29 L491.05 528.36 L492.05 526.37 L493.05 524.31 L494.05 522.19 L495.05 520.01 L496.05 517.76 L497.05 515.44 L498.05 513.06 L499.05 510.6 L500.05 508.08 L501.05 505.49 L502.05 502.83 L503.05 500.1 L504.05 497.3 L505.05 494.43 L506.05 491.48 L507.05 488.46 L508.05 485.37 L509.05 482.2 L510.05 478.96 L511.05 475.64 L512.05 472.25 L513.05 468.79 L514.05 465.25 L515.05 461.64 L516.05 457.95 L517.05 454.19 L518.05 450.35 L519.05 446.44 L520.05 442.45 L521.05 438.39 L522.05 434.26 L523.05 430.06 L524.05 425.78 L525.05 421.43 L526.05 417.02 L527.05 412.53 L528.05 407.97 L529.05 403.35 L530.05 398.66 L531.05 393.91 L532.05 389.09 L533.05 384.21 L534.05 379.27 L535.05 374.28 L536.05 369.22 L537.05 364.11 L538.05 358.95 L539.05 353.74 L540.05 348.48 L541.05 343.18 L542.05 337.83 L543.05 332.45 L544.05 327.02 L545.05 321.56 L546.05 316.08 L547.05 310.56 L548.05 305.02 L549.05 299.45 L550.05 293.88 L551.05 288.28 L552.05 282.68 L553.05 277.07 L554.05 271.46 L555.05 265.86 L556.05 260.26 L557.05 254.67 L558.05 249.1 L559.05 243.55 L560.05 238.02 L561.05 232.53 L562.05 227.08 L563.05 221.66 L564.05 216.29 L565.05 210.98 L566.05 205.72 L567.05 200.52 L568.05 195.4 L569.05 190.34 L570.05 185.37 L571.05 180.49 L572.05 175.69 L573.05 171 L574.05 166.4 L575.05 161.92 L576.05 157.55 L577.05 153.31 L578.05 149.19 L579.05 145.2 L580.05 141.35 L581.05 137.65 L582.05 134.1 L583.05 130.71 L584.05 127.47 L585.05 124.41 L586.05 121.51 L587.05 118.79 L588.05 116.26 L589.05 113.91 L590.05 111.76 L591.05 109.8 L592.05 108.05 L593.05 106.5 L594.05 105.16 L595.05 104.03 L596.05 103.12 L597.05 102.43 L598.05 101.96 L599.05 101.72 L600.05 101.71 L601.05 101.92 L602.05 102.37 L603.05 103.04 L604.05 103.96 L605.05 105.1 L606.05 106.49 L607.05 108.1 L608.05 109.95 L609.05 112.03 L610.05 114.35 L611.05 116.9 L612.05 119.67 L613.05 122.67 L614.05 125.89 L615.05 129.34 L616.05 133 L617.05 136.87 L618.05 140.95 L619.05 145.23 L620.05 149.72 L621.05 154.39 L622.05 159.25 L623.05 164.3 L624.05 169.51 L625.05 174.9 L626.05 180.44 L627.05 186.14 L628.05 191.98 L629.05 197.96 L630.05 204.07 L631.05 210.29 L632.05 216.63 L633.05 223.08 L634.05 229.61 L635.05 236.23 L636.05 242.93 L637.05 249.69 L638.05 256.51 L639.05 263.38 L640.05 270.28 L641.05 277.22 L642.05 284.17 L643.05 291.13 L644.05 298.09 L645.05 305.04 L646.05 311.97 L647.05 318.88 L648.05 325.75 L649.05 332.58 L650.05 339.35 L651.05 346.07 L652.05 352.71 L653.05 359.28 L654.05 365.77 L655.05 372.17 L656.05 378.47 L657.05 384.67 L658.05 390.76 L659.05 396.73 L660.05 402.59 L661.05 408.32 L662.05 413.93 L663.05 419.4 L664.05 424.73 L665.05 429.93 L666.05 434.99 L667.05 439.9 L668.05 444.67 L669.05 449.28 L670.05 453.75 L671.05 458.08 L672.05 462.25 L673.05 466.27 L674.05 470.14 L675.05 473.86 L676.05 477.43 L677.05 480.86 L678.05 484.14 L679.05 487.28 L680.05 490.28 L681.05 493.14 L682.05 495.86 L683.05 498.45 L684.05 500.9 L685.05 503.23 L686.05 505.44 L687.05 507.53 L688.05 509.49 L689.05 511.35 L690.05 513.09 L691.05 514.73 L692.05 516.27 L693.05 517.71 L694.05 519.06 L695.05 520.31 L696.05 521.48 L697.05 522.57 L698.05 523.58 L699.05 524.52 L700.05 525.38 L701.05 526.18 L702.05 526.91 L703.05 527.59 L704.05 528.21 L705.05 528.77 L706.05 529.29 L707.05 529.76 L708.05 530.19 L709.05 530.58 L710.05 530.93 L711.05 531.24 L712.05 531.53 L713.05 531.78 L714.05 532.01 L715.05 532.21 L716.05 532.39 L717.05 532.54 L718.05 532.68 L719.05 532.8 L720.05 532.91 L721.05 533 L722.05 533.07 L723.05 533.14 L724.05 533.2 L725.05 533.24 L726.05 533.28 L727.05 533.31 L728.05 533.33 L729.05 533.35 L730.05 533.36 L731.05 533.37 L732.05 533.38 L733.05 533.38 L734.05 533.38 L735.05 533.38 L736.05 533.37 L737.05 533.37 L738.05 533.36 L739.05 533.35 L740.05 533.35 L741.05 533.34 L742.05 533.33 L743.05 533.32 L744.05 533.31 L745.05 533.3 L746.05 533.29 L747.05 533.28 L748.05 533.28 L749.05 533.27 L750.05 533.26 L751.05 533.25 L752.05 533.25 L753.05 533.24 L754.05 533.24 L755.05 533.23 L756.05 533.23 L757.05 533.23 L758.05 533.22 L759.05 533.22 L760.05 533.22 L761.05 533.22 L762.05 533.22 L763.05 533.22 L764.05 533.22 L765.05 533.22 L766.05 533.22 L767.05 533.22 L768.05 533.22 L769.05 533.22 L770.05 533.22 L771.05 533.23 L772.05 533.23 L773.05 533.23 L774.05 533.24 L775.05 533.24 L776.05 533.24 L777.05 533.25 L778.05 533.25 L779.05 533.25 L780.05 533.26 L781.05 533.26 L782.05 533.27 L783.05 533.27 L784.05 533.27 L785.05 533.28 L786.05 533.28 L787.05 533.29 L788.05 533.29 L789.05 533.3 L790.05 533.3 L791.05 533.31 L792.05 533.31 L793.05 533.31 L794.05 533.32 L795.05 533.32 L796.05 533.33 L797.2 533.33" stroke="#000" stroke-width="1.15"/>
<path d="M80.05 533.46 L81.05 533.46 L82.05 533.46 L83.05 533.46 L84.05 533.45 L85.05 533.45 L86.05 533.45 L87.05 533.45 L88.05 533.45 L89.05 533.45 L90.05 533.45 L91.05 533.45 L92.05 533.45 L93.05 533.45 L94.05 533.44 L95.05 533.44 L96.05 533.44 L97.05 533.44 L98.05 533.44 L99.05 533.44 L100.05 533.44 L101.05 533.44 L102.05 533.43 L103.05 533.43 L104.05 533.43 L105.05 533.43 L106.05 533.43 L107.05 533.43 L108.05 533.43 L109.05 533.43 L110.05 533.42 L111.05 533.42 L112.05 533.42 L113.05 533.42 L114.05 533.42 L115.05 533.42 L116.05 533.41 L117.05 533.41 L118.05 533.41 L119.05 533.41 L120.05 533.41 L121.05 533.41 L122.05 533.41 L123.05 533.4 L124.05 533.4 L125.05 533.4 L126.05 533.4 L127.05 533.4 L128.05 533.4 L129.05 533.39 L130.05 533.39 L131.05 533.39 L132.05 533.39 L133.05 533.39 L134.05 533.39 L135.05 533.38 L136.05 533.38 L137.05 533.38 L138.05 533.38 L139.05 533.38 L140.05 533.38 L141.05 533.37 L142.05 533.37 L143.05 533.37 L144.05 533.37 L145.05 533.37 L146.05 533.37 L147.05 533.36 L148.05 533.36 L149.05 533.36 L150.05 533.36 L151.05 533.36 L152.05 533.36 L153.05 533.36 L154.05 533.36 L155.05 533.36 L156.05 533.35 L157.05 533.35 L158.05 533.35 L159.05 533.35 L160.05 533.35 L161.05 533.35 L162.05 533.35 L163.05 533.35 L164.05 533.35 L165.05 533.35 L166.05 533.35 L167.05 533.35 L168.05 533.35 L169.05 533.35 L170.05 533.35 L171.05 533.35 L172.05 533.35 L173.05 533.35 L174.05 533.35 L175.05 533.36 L176.05 533.36 L177.05 533.36 L178.05 533.36 L179.05 533.36 L180.05 533.36 L181.05 533.37 L182.05 533.37 L183.05 533.37 L184.05 533.38 L185.05 533.38 L186.05 533.38 L187.05 533.39 L188.05 533.39 L189.05 533.39 L190.05 533.4 L191.05 533.4 L192.05 533.41 L193.05 533.41 L194.05 533.42 L195.05 533.43 L196.05 533.43 L197.05 533.44 L198.05 533.45 L199.05 533.46 L200.05 533.46 L201.05 533.47 L202.05 533.48 L203.05 533.49 L204.05 533.5 L205.05 533.51 L206.05 533.52 L207.05 533.53 L208.05 533.54 L209.05 533.55 L210.05 533.57 L211.05 533.58 L212.05 533.59 L213.05 533.61 L214.05 533.62 L215.05 533.63 L216.05 533.65 L217.05 533.67 L218.05 533.68 L219.05 533.7 L220.05 533.72 L221.05 533.74 L222.05 533.75 L223.05 533.77 L224.05 533.79 L225.05 533.81 L226.05 533.84 L227.05 533.86 L228.05 533.88 L229.05 533.9 L230.05 533.93 L231.05 533.95 L232.05 533.98 L233.05 534.01 L234.05 534.03 L235.05 534.06 L236.05 534.09 L237.05 534.12 L238.05 534.15 L239.05 534.18 L240.05 534.21 L241.05 534.24 L242.05 534.28 L243.05 534.31 L244.05 534.35 L245.05 534.38 L246.05 534.42 L247.05 534.46 L248.05 534.5 L249.05 534.54 L250.05 534.58 L251.05 534.62 L252.05 534.66 L253.05 534.7 L254.05 534.75 L255.05 534.79 L256.05 534.84 L257.05 534.89 L258.05 534.94 L259.05 534.99 L260.05 535.04 L261.05 535.09 L262.05 535.14 L263.05 535.19 L264.05 535.25 L265.05 535.3 L266.05 535.36 L267.05 535.42 L268.05 535.48 L269.05 535.54 L270.05 535.6 L271.05 535.66 L272.05 535.73 L273.05 535.79 L274.05 535.86 L275.05 535.93 L276.05 536 L277.05 536.07 L278.05 536.14 L279.05 536.21 L280.05 536.28 L281.05 536.36 L282.05 536.44 L283.05 536.51 L284.05 536.59 L285.05 536.67 L286.05 536.75 L287.05 536.84 L288.05 536.92 L289.05 537.01 L290.05 537.09 L291.05 537.18 L292.05 537.27 L293.05 537.36 L294.05 537.46 L295.05 537.55 L296.05 537.65 L297.05 537.74 L298.05 537.84 L299.05 537.94 L300.05 538.04 L301.05 538.15 L302.05 538.25 L303.05 538.36 L304.05 538.46 L305.05 538.57 L306.05 538.68 L307.05 538.8 L308.05 538.91 L309.05 539.02 L310.05 539.14 L311.05 539.26 L312.05 539.38 L313.05 539.5 L314.05 539.63 L315.05 539.75 L316.05 539.88 L317.05 540.01 L318.05 540.14 L319.05 540.27 L320.05 540.4 L321.05 540.54 L322.05 540.68 L323.05 540.82 L324.05 540.96 L325.05 541.1 L326.05 541.24 L327.05 541.39 L328.05 541.54 L329.05 541.69 L330.05 541.84 L331.05 542 L332.05 542.15 L333.05 542.31 L334.05 542.47 L335.05 542.63 L336.05 542.8 L337.05 542.96 L338.05 543.13 L339.05 543.3 L340.05 543.47 L341.05 543.65 L342.05 543.82 L343.05 544 L344.05 544.18 L345.05 544.36 L346.05 544.55 L347.05 544.73 L348.05 544.92 L349.05 545.12 L350.05 545.31 L351.05 545.5 L352.05 545.7 L353.05 545.9 L354.05 546.11 L355.05 546.31 L356.05 546.52 L357.05 546.73 L358.05 546.94 L359.05 547.15 L360.05 547.37 L361.05 547.59 L362.05 547.81 L363.05 548.03 L364.05 548.26 L365.05 548.49 L366.05 548.72 L367.05 548.95 L368.05 549.19 L369.05 549.42 L370.05 549.66 L371.05 549.91 L372.05 550.15 L373.05 550.4 L374.05 550.65 L375.05 550.9 L376.05 551.15 L377.05 551.41 L378.05 551.67 L379.05 551.93 L380.05 552.19 L381.05 552.46 L382.05 552.72 L383.05 552.99 L384.05 553.26 L385.05 553.54 L386.05 553.81 L387.05 554.09 L388.05 554.37 L389.05 554.65 L390.05 554.93 L391.05 555.21 L392.05 555.5 L393.05 555.78 L394.05 556.07 L395.05 556.36 L396.05 556.65 L397.05 556.94 L398.05 557.23 L399.05 557.52 L400.05 557.82 L401.05 558.11 L402.05 558.4 L403.05 558.7 L404.05 558.99 L405.05 559.28 L406.05 559.58 L407.05 559.87 L408.05 560.16 L409.05 560.45 L410.05 560.74 L411.05 561.03 L412.05 561.32 L413.05 561.6 L414.05 561.88 L415.05 562.16 L416.05 562.44 L417.05 562.71 L418.05 562.98 L419.05 563.25 L420.05 563.52 L421.05 563.77 L422.05 564.03 L423.05 564.28 L424.05 564.52 L425.05 564.76 L426.05 564.99 L427.05 565.21 L428.05 565.43 L429.05 565.64 L430.05 565.84 L431.05 566.04 L432.05 566.22 L433.05 566.4 L434.05 566.56 L435.05 566.71 L436.05 566.86 L437.05 566.99 L438.05 567.11 L439.05 567.21 L440.05 567.31 L441.05 567.38 L442.05 567.45 L443.05 567.49 L444.05 567.52 L445.05 567.54 L446.05 567.54 L447.05 567.51 L448.05 567.47 L449.05 567.41 L450.05 567.33 L451.05 567.23 L452.05 567.1 L453.05 566.95 L454.05 566.78 L455.05 566.58 L456.05 566.36 L457.05 566.11 L458.05 565.83 L459.05 565.52 L460.05 565.18 L461.05 564.82 L462.05 564.42 L463.05 563.99 L464.05 563.52 L465.05 563.03 L466.05 562.49 L467.05 561.92 L468.05 561.31 L469.05 560.66 L470.05 559.98 L471.05 559.25 L472.05 558.48 L473.05 557.66 L474.05 556.81 L475.05 555.9 L476.05 554.96 L477.05 553.96 L478.05 552.91 L479.05 551.82 L480.05 550.67 L481.05 549.47 L482.05 548.22 L483.05 546.92 L484.05 545.56 L485.05 544.14 L486.05 542.66 L487.05 541.13 L488.05 539.54 L489.05 537.88 L490.05 536.16 L491.05 534.38 L492.05 532.54 L493.05 530.63 L494.05 528.65 L495.05 526.61 L496.05 524.5 L497.05 522.32 L498.05 520.07 L499.05 517.75 L500.05 515.35 L501.05 512.89 L502.05 510.35 L503.05 507.73 L504.05 505.05 L505.05 502.28 L506.05 499.44 L507.05 496.52 L508.05 493.53 L509.05 490.45 L510.05 487.3 L511.05 484.07 L512.05 480.76 L513.05 477.37 L514.05 473.9 L515.05 470.35 L516.05 466.72 L517.05 463.01 L518.05 459.22 L519.05 455.35 L520.05 451.4 L521.05 447.38 L522.05 443.27 L523.05 439.09 L524.05 434.82 L525.05 430.48 L526.05 426.07 L527.05 421.58 L528.05 417.01 L529.05 412.37 L530.05 407.66 L531.05 402.88 L532.05 398.03 L533.05 393.11 L534.05 388.12 L535.05 383.07 L536.05 377.96 L537.05 372.78 L538.05 367.55 L539.05 362.26 L540.05 356.92 L541.05 351.52 L542.05 346.08 L543.05 340.59 L544.05 335.06 L545.05 329.49 L546.05 323.88 L547.05 318.24 L548.05 312.57 L549.05 306.87 L550.05 301.15 L551.05 295.41 L552.05 289.66 L553.05 283.89 L554.05 278.12 L555.05 272.35 L556.05 266.58 L557.05 260.82 L558.05 255.08 L559.05 249.35 L560.05 243.64 L561.05 237.96 L562.05 232.31 L563.05 226.7 L564.05 221.14 L565.05 215.63 L566.05 210.17 L567.05 204.77 L568.05 199.44 L569.05 194.18 L570.05 189 L571.05 183.91 L572.05 178.9 L573.05 174 L574.05 169.2 L575.05 164.5 L576.05 159.93 L577.05 155.47 L578.05 151.15 L579.05 146.95 L580.05 142.9 L581.05 139 L582.05 135.24 L583.05 131.65 L584.05 128.22 L585.05 124.96 L586.05 121.87 L587.05 118.96 L588.05 116.24 L589.05 113.72 L590.05 111.39 L591.05 109.26 L592.05 107.33 L593.05 105.62 L594.05 104.11 L595.05 102.83 L596.05 101.77 L597.05 100.93 L598.05 100.33 L599.05 99.95 L600.05 99.8 L601.05 99.9 L602.05 100.22 L603.05 100.79 L604.05 101.6 L605.05 102.65 L606.05 103.93 L607.05 105.46 L608.05 107.23 L609.05 109.24 L610.05 111.49 L611.05 113.97 L612.05 116.69 L613.05 119.64 L614.05 122.82 L615.05 126.23 L616.05 129.86 L617.05 133.71 L618.05 137.77 L619.05 142.04 L620.05 146.52 L621.05 151.19 L622.05 156.06 L623.05 161.11 L624.05 166.35 L625.05 171.75 L626.05 177.32 L627.05 183.05 L628.05 188.93 L629.05 194.94 L630.05 201.09 L631.05 207.37 L632.05 213.76 L633.05 220.26 L634.05 226.85 L635.05 233.54 L636.05 240.3 L637.05 247.12 L638.05 254.01 L639.05 260.95 L640.05 267.93 L641.05 274.93 L642.05 281.96 L643.05 289 L644.05 296.04 L645.05 303.07 L646.05 310.08 L647.05 317.07 L648.05 324.02 L649.05 330.92 L650.05 337.78 L651.05 344.57 L652.05 351.29 L653.05 357.94 L654.05 364.5 L655.05 370.98 L656.05 377.35 L657.05 383.62 L658.05 389.78 L659.05 395.82 L660.05 401.75 L661.05 407.54 L662.05 413.21 L663.05 418.74 L664.05 424.14 L665.05 429.39 L666.05 434.5 L667.05 439.46 L668.05 444.28 L669.05 448.94 L670.05 453.46 L671.05 457.82 L672.05 462.03 L673.05 466.09 L674.05 469.99 L675.05 473.75 L676.05 477.35 L677.05 480.8 L678.05 484.11 L679.05 487.27 L680.05 490.29 L681.05 493.17 L682.05 495.91 L683.05 498.51 L684.05 500.98 L685.05 503.32 L686.05 505.54 L687.05 507.63 L688.05 509.61 L689.05 511.47 L690.05 513.22 L691.05 514.86 L692.05 516.4 L693.05 517.84 L694.05 519.18 L695.05 520.44 L696.05 521.61 L697.05 522.69 L698.05 523.7 L699.05 524.63 L700.05 525.49 L701.05 526.28 L702.05 527.01 L703.05 527.68 L704.05 528.29 L705.05 528.86 L706.05 529.37 L707.05 529.83 L708.05 530.25 L709.05 530.63 L710.05 530.98 L711.05 531.29 L712.05 531.56 L713.05 531.81 L714.05 532.03 L715.05 532.23 L716.05 532.4 L717.05 532.55 L718.05 532.68 L719.05 532.8 L720.05 532.9 L721.05 532.98 L722.05 533.06 L723.05 533.12 L724.05 533.17 L725.05 533.21 L726.05 533.25 L727.05 533.28 L728.05 533.3 L729.05 533.31 L730.05 533.32 L731.05 533.33 L732.05 533.34 L733.05 533.34 L734.05 533.33 L735.05 533.33 L736.05 533.33 L737.05 533.32 L738.05 533.31 L739.05 533.31 L740.05 533.3 L741.05 533.29 L742.05 533.28 L743.05 533.27 L744.05 533.26 L745.05 533.25 L746.05 533.25 L747.05 533.24 L748.05 533.23 L749.05 533.23 L750.05 533.22 L751.05 533.22 L752.05 533.21 L753.05 533.21 L754.05 533.2 L755.05 533.2 L756.05 533.2 L757.05 533.2 L758.05 533.19 L759.05 533.19 L760.05 533.19 L761.05 533.19 L762.05 533.19 L763.05 533.19 L764.05 533.2 L765.05 533.2 L766.05 533.2 L767.05 533.2 L768.05 533.21 L769.05 533.21 L770.05 533.21 L771.05 533.22 L772.05 533.22 L773.05 533.22 L774.05 533.23 L775.05 533.23 L776.05 533.24 L777.05 533.24 L778.05 533.25 L779.05 533.25 L780.05 533.26 L781.05 533.26 L782.05 533.27 L783.05 533.27 L784.05 533.28 L785.05 533.28 L786.05 533.29 L787.05 533.29 L788.05 533.3 L789.05 533.3 L790.05 533.31 L791.05 533.31 L792.05 533.32 L793.05 533.32 L794.05 533.33 L795.05 533.33 L796.05 533.34 L797.2 533.34" stroke="#00f" stroke-width="2.3" stroke-dasharray="2 6 10 6"/>
<path d="M80.05 533.46 L81.05 533.46 L82.05 533.46 L83.05 533.46 L84.05 533.46 L85.05 533.46 L86.05 533.46 L87.05 533.46 L88.05 533.46 L89.05 533.46 L90.05 533.46 L91.05 533.46 L92.05 533.46 L93.05 533.46 L94.05 533.45 L95.05 533.45 L96.05 533.45 L97.05 533.45 L98.05 533.45 L99.05 533.45 L100.05 533.45 L101.05 533.45 L102.05 533.45 L103.05 533.45 L104.05 533.45 L105.05 533.45 L106.05 533.45 L107.05 533.45 L108.05 533.45 L109.05 533.45 L110.05 533.45 L111.05 533.45 L112.05 533.45 L113.05 533.44 L114.05 533.44 L115.05 533.44 L116.05 533.44 L117.05 533.44 L118.05 533.44 L119.05 533.44 L120.05 533.44 L121.05 533.44 L122.05 533.44 L123.05 533.44 L124.05 533.44 L125.05 533.44 L126.05 533.44 L127.05 533.44 L128.05 533.44 L129.05 533.44 L130.05 533.44 L131.05 533.44 L132.05 533.44 L133.05 533.44 L134.05 533.44 L135.05 533.44 L136.05 533.44 L137.05 533.44 L138.05 533.44 L139.05 533.44 L140.05 533.44 L141.05 533.44 L142.05 533.44 L143.05 533.44 L144.05 533.45 L145.05 533.45 L146.05 533.45 L147.05 533.45 L148.05 533.45 L149.05 533.45 L150.05 533.45 L151.05 533.45 L152.05 533.45 L153.05 533.45 L154.05 533.46 L155.05 533.46 L156.05 533.46 L157.05 533.46 L158.05 533.46 L159.05 533.46 L160.05 533.47 L161.05 533.47 L162.05 533.47 L163.05 533.47 L164.05 533.48 L165.05 533.48 L166.05 533.48 L167.05 533.48 L168.05 533.49 L169.05 533.49 L170.05 533.49 L171.05 533.5 L172.05 533.5 L173.05 533.5 L174.05 533.51 L175.05 533.51 L176.05 533.52 L177.05 533.52 L178.05 533.52 L179.05 533.53 L180.05 533.53 L181.05 533.54 L182.05 533.54 L183.05 533.55 L184.05 533.55 L185.05 533.56 L186.05 533.57 L187.05 533.57 L188.05 533.58 L189.05 533.58 L190.05 533.59 L191.05 533.6 L192.05 533.61 L193.05 533.61 L194.05 533.62 L195.05 533.63 L196.05 533.64 L197.05 533.65 L198.05 533.65 L199.05 533.66 L200.05 533.67 L201.05 533.68 L202.05 533.69 L203.05 533.7 L204.05 533.71 L205.05 533.72 L206.05 533.73 L207.05 533.74 L208.05 533.76 L209.05 533.77 L210.05 533.78 L211.05 533.79 L212.05 533.81 L213.05 533.82 L214.05 533.83 L215.05 533.85 L216.05 533.86 L217.05 533.87 L218.05 533.89 L219.05 533.91 L220.05 533.92 L221.05 533.94 L222.05 533.95 L223.05 533.97 L224.05 533.99 L225.05 534.01 L226.05 534.02 L227.05 534.04 L228.05 534.06 L229.05 534.08 L230.05 534.1 L231.05 534.12 L232.05 534.14 L233.05 534.17 L234.05 534.19 L235.05 534.21 L236.05 534.23 L237.05 534.26 L238.05 534.28 L239.05 534.31 L240.05 534.33 L241.05 534.36 L242.05 534.38 L243.05 534.41 L244.05 534.44 L245.05 534.46 L246.05 534.49 L247.05 534.52 L248.05 534.55 L249.05 534.58 L250.05 534.61 L251.05 534.64 L252.05 534.68 L253.05 534.71 L254.05 534.74 L255.05 534.78 L256.05 534.81 L257.05 534.85 L258.05 534.88 L259.05 534.92 L260.05 534.96 L261.05 535 L262.05 535.04 L263.05 535.08 L264.05 535.12 L265.05 535.16 L266.05 535.2 L267.05 535.24 L268.05 535.29 L269.05 535.33 L270.05 535.37 L271.05 535.42 L272.05 535.47 L273.05 535.52 L274.05 535.56 L275.05 535.61 L276.05 535.66 L277.05 535.71 L278.05 535.77 L279.05 535.82 L280.05 535.87 L281.05 535.93 L282.05 535.98 L283.05 536.04 L284.05 536.1 L285.05 536.15 L286.05 536.21 L287.05 536.27 L288.05 536.34 L289.05 536.4 L290.05 536.46 L291.05 536.53 L292.05 536.59 L293.05 536.66 L294.05 536.72 L295.05 536.79 L296.05 536.86 L297.05 536.93 L298.05 537.01 L299.05 537.08 L300.05 537.15 L301.05 537.23 L302.05 537.31 L303.05 537.38 L304.05 537.46 L305.05 537.54 L306.05 537.62 L307.05 537.71 L308.05 537.79 L309.05 537.88 L310.05 537.96 L311.05 538.05 L312.05 538.14 L313.05 538.23 L314.05 538.32 L315.05 538.42 L316.05 538.51 L317.05 538.61 L318.05 538.71 L319.05 538.81 L320.05 538.91 L321.05 539.01 L322.05 539.12 L323.05 539.22 L324.05 539.33 L325.05 539.44 L326.05 539.55 L327.05 539.66 L328.05 539.78 L329.05 539.89 L330.05 540.01 L331.05 540.13 L332.05 540.25 L333.05 540.37 L334.05 540.5 L335.05 540.63 L336.05 540.75 L337.05 540.89 L338.05 541.02 L339.05 541.15 L340.05 541.29 L341.05 541.43 L342.05 541.57 L343.05 541.71 L344.05 541.86 L345.05 542.01 L346.05 542.16 L347.05 542.31 L348.05 542.46 L349.05 542.62 L350.05 542.78 L351.05 542.94 L352.05 543.11 L353.05 543.27 L354.05 543.44 L355.05 543.62 L356.05 543.79 L357.05 543.97 L358.05 544.15 L359.05 544.33 L360.05 544.51 L361.05 544.7 L362.05 544.89 L363.05 545.09 L364.05 545.28 L365.05 545.48 L366.05 545.68 L367.05 545.89 L368.05 546.1 L369.05 546.31 L370.05 546.52 L371.05 546.74 L372.05 546.96 L373.05 547.18 L374.05 547.41 L375.05 547.64 L376.05 547.87 L377.05 548.1 L378.05 548.34 L379.05 548.58 L380.05 548.83 L381.05 549.07 L382.05 549.32 L383.05 549.58 L384.05 549.83 L385.05 550.09 L386.05 550.36 L387.05 550.62 L388.05 550.89 L389.05 551.16 L390.05 551.44 L391.05 551.71 L392.05 551.99 L393.05 552.28 L394.05 552.56 L395.05 552.85 L396.05 553.14 L397.05 553.44 L398.05 553.73 L399.05 554.03 L400.05 554.33 L401.05 554.63 L402.05 554.94 L403.05 555.24 L404.05 555.55 L405.05 555.86 L406.05 556.17 L407.05 556.48 L408.05 556.8 L409.05 557.11 L410.05 557.42 L411.05 557.74 L412.05 558.06 L413.05 558.37 L414.05 558.69 L415.05 559 L416.05 559.32 L417.05 559.63 L418.05 559.94 L419.05 560.25 L420.05 560.56 L421.05 560.87 L422.05 561.18 L423.05 561.48 L424.05 561.78 L425.05 562.07 L426.05 562.36 L427.05 562.65 L428.05 562.93 L429.05 563.21 L430.05 563.48 L431.05 563.75 L432.05 564.01 L433.05 564.26 L434.05 564.5 L435.05 564.74 L436.05 564.96 L437.05 565.18 L438.05 565.39 L439.05 565.59 L440.05 565.77 L441.05 565.94 L442.05 566.11 L443.05 566.25 L444.05 566.39 L445.05 566.51 L446.05 566.61 L447.05 566.7 L448.05 566.77 L449.05 566.82 L450.05 566.86 L451.05 566.87 L452.05 566.87 L453.05 566.84 L454.05 566.79 L455.05 566.72 L456.05 566.63 L457.05 566.51 L458.05 566.36 L459.05 566.19 L460.05 565.99 L461.05 565.76 L462.05 565.5 L463.05 565.2 L464.05 564.88 L465.05 564.53 L466.05 564.13 L467.05 563.71 L468.05 563.25 L469.05 562.75 L470.05 562.21 L471.05 561.63 L472.05 561.01 L473.05 560.34 L474.05 559.64 L475.05 558.88 L476.05 558.09 L477.05 557.24 L478.05 556.35 L479.05 555.4 L480.05 554.41 L481.05 553.36 L482.05 552.26 L483.05 551.1 L484.05 549.89 L485.05 548.62 L486.05 547.29 L487.05 545.9 L488.05 544.45 L489.05 542.94 L490.05 541.37 L491.05 539.73 L492.05 538.02 L493.05 536.25 L494.05 534.41 L495.05 532.5 L496.05 530.51 L497.05 528.46 L498.05 526.34 L499.05 524.14 L500.05 521.86 L501.05 519.51 L502.05 517.08 L503.05 514.58 L504.05 512 L505.05 509.33 L506.05 506.59 L507.05 503.77 L508.05 500.86 L509.05 497.88 L510.05 494.8 L511.05 491.65 L512.05 488.41 L513.05 485.09 L514.05 481.69 L515.05 478.2 L516.05 474.62 L517.05 470.96 L518.05 467.21 L519.05 463.38 L520.05 459.47 L521.05 455.46 L522.05 451.38 L523.05 447.21 L524.05 442.96 L525.05 438.62 L526.05 434.2 L527.05 429.7 L528.05 425.12 L529.05 420.46 L530.05 415.72 L531.05 410.91 L532.05 406.02 L533.05 401.05 L534.05 396.01 L535.05 390.9 L536.05 385.73 L537.05 380.48 L538.05 375.17 L539.05 369.8 L540.05 364.37 L541.05 358.88 L542.05 353.33 L543.05 347.73 L544.05 342.09 L545.05 336.39 L546.05 330.66 L547.05 324.89 L548.05 319.08 L549.05 313.24 L550.05 307.37 L551.05 301.47 L552.05 295.56 L553.05 289.63 L554.05 283.7 L555.05 277.75 L556.05 271.8 L557.05 265.86 L558.05 259.93 L559.05 254.01 L560.05 248.1 L561.05 242.23 L562.05 236.38 L563.05 230.57 L564.05 224.8 L565.05 219.07 L566.05 213.4 L567.05 207.79 L568.05 202.24 L569.05 196.77 L570.05 191.37 L571.05 186.06 L572.05 180.84 L573.05 175.71 L574.05 170.69 L575.05 165.78 L576.05 160.99 L577.05 156.31 L578.05 151.77 L579.05 147.36 L580.05 143.1 L581.05 138.98 L582.05 135.02 L583.05 131.22 L584.05 127.59 L585.05 124.13 L586.05 120.85 L587.05 117.75 L588.05 114.85 L589.05 112.14 L590.05 109.63 L591.05 107.33 L592.05 105.23 L593.05 103.36 L594.05 101.7 L595.05 100.27 L596.05 99.07 L597.05 98.1 L598.05 97.36 L599.05 96.86 L600.05 96.6 L601.05 96.58 L602.05 96.81 L603.05 97.28 L604.05 98 L605.05 98.97 L606.05 100.19 L607.05 101.65 L608.05 103.37 L609.05 105.33 L610.05 107.53 L611.05 109.99 L612.05 112.68 L613.05 115.61 L614.05 118.78 L615.05 122.19 L616.05 125.82 L617.05 129.68 L618.05 133.76 L619.05 138.06 L620.05 142.56 L621.05 147.28 L622.05 152.19 L623.05 157.29 L624.05 162.58 L625.05 168.04 L626.05 173.68 L627.05 179.48 L628.05 185.43 L629.05 191.53 L630.05 197.76 L631.05 204.12 L632.05 210.61 L633.05 217.2 L634.05 223.89 L635.05 230.67 L636.05 237.53 L637.05 244.46 L638.05 251.45 L639.05 258.49 L640.05 265.58 L641.05 272.69 L642.05 279.82 L643.05 286.97 L644.05 294.11 L645.05 301.25 L646.05 308.36 L647.05 315.45 L648.05 322.51 L649.05 329.51 L650.05 336.46 L651.05 343.35 L652.05 350.17 L653.05 356.91 L654.05 363.56 L655.05 370.11 L656.05 376.57 L657.05 382.92 L658.05 389.16 L659.05 395.27 L660.05 401.26 L661.05 407.13 L662.05 412.86 L663.05 418.45 L664.05 423.9 L665.05 429.2 L666.05 434.36 L667.05 439.37 L668.05 444.22 L669.05 448.93 L670.05 453.48 L671.05 457.87 L672.05 462.11 L673.05 466.19 L674.05 470.12 L675.05 473.89 L676.05 477.51 L677.05 480.98 L678.05 484.3 L679.05 487.47 L680.05 490.5 L681.05 493.38 L682.05 496.12 L683.05 498.73 L684.05 501.2 L685.05 503.54 L686.05 505.75 L687.05 507.84 L688.05 509.81 L689.05 511.66 L690.05 513.41 L691.05 515.04 L692.05 516.57 L693.05 518 L694.05 519.34 L695.05 520.58 L696.05 521.74 L697.05 522.82 L698.05 523.81 L699.05 524.73 L700.05 525.58 L701.05 526.36 L702.05 527.08 L703.05 527.74 L704.05 528.35 L705.05 528.9 L706.05 529.4 L707.05 529.86 L708.05 530.27 L709.05 530.64 L710.05 530.98 L711.05 531.28 L712.05 531.55 L713.05 531.8 L714.05 532.01 L715.05 532.2 L716.05 532.37 L717.05 532.52 L718.05 532.65 L719.05 532.76 L720.05 532.85 L721.05 532.94 L722.05 533.01 L723.05 533.07 L724.05 533.12 L725.05 533.16 L726.05 533.19 L727.05 533.22 L728.05 533.24 L729.05 533.26 L730.05 533.27 L731.05 533.28 L732.05 533.28 L733.05 533.29 L734.05 533.29 L735.05 533.28 L736.05 533.28 L737.05 533.27 L738.05 533.27 L739.05 533.26 L740.05 533.26 L741.05 533.25 L742.05 533.24 L743.05 533.24 L744.05 533.23 L745.05 533.22 L746.05 533.22 L747.05 533.21 L748.05 533.21 L749.05 533.2 L750.05 533.2 L751.05 533.19 L752.05 533.19 L753.05 533.19 L754.05 533.19 L755.05 533.19 L756.05 533.18 L757.05 533.18 L758.05 533.18 L759.05 533.19 L760.05 533.19 L761.05 533.19 L762.05 533.19 L763.05 533.19 L764.05 533.19 L765.05 533.2 L766.05 533.2 L767.05 533.2 L768.05 533.21 L769.05 533.21 L770.05 533.22 L771.05 533.22 L772.05 533.23 L773.05 533.23 L774.05 533.24 L775.05 533.24 L776.05 533.25 L777.05 533.25 L778.05 533.26 L779.05 533.26 L780.05 533.27 L781.05 533.27 L782.05 533.28 L783.05 533.28 L784.05 533.29 L785.05 533.29 L786.05 533.3 L787.05 533.31 L788.05 533.31 L789.05 533.32 L790.05 533.32 L791.05 533.33 L792.05 533.33 L793.05 533.34 L794.05 533.34 L795.05 533.35 L796.05 533.35 L797.2 533.36" stroke="#f00" stroke-width="2.3" stroke-dasharray="10 6"/>
<path d="M80.05 533.55 L81.05 533.55 L82.05 533.55 L83.05 533.55 L84.05 533.55 L85.05 533.55 L86.05 533.56 L87.05 533.56 L88.05 533.56 L89.05 533.56 L90.05 533.56 L91.05 533.56 L92.05 533.56 L93.05 533.56 L94.05 533.57 L95.05 533.57 L96.05 533.57 L97.05 533.57 L98.05 533.57 L99.05 533.57 L100.05 533.57 L101.05 533.58 L102.05 533.58 L103.05 533.58 L104.05 533.58 L105.05 533.58 L106.05 533.59 L107.05 533.59 L108.05 533.59 L109.05 533.59 L110.05 533.59 L111.05 533.59 L112.05 533.6 L113.05 533.6 L114.05 533.6 L115.05 533.6 L116.05 533.6 L117.05 533.61 L118.05 533.61 L119.05 533.61 L120.05 533.61 L121.05 533.62 L122.05 533.62 L123.05 533.62 L124.05 533.62 L125.05 533.63 L126.05 533.63 L127.05 533.63 L128.05 533.63 L129.05 533.64 L130.05 533.64 L131.05 533.64 L132.05 533.65 L133.05 533.65 L134.05 533.65 L135.05 533.65 L136.05 533.66 L137.05 533.66 L138.05 533.66 L139.05 533.67 L140.05 533.67 L141.05 533.67 L142.05 533.68 L143.05 533.68 L144.05 533.69 L145.05 533.69 L146.05 533.69 L147.05 533.7 L148.05 533.7 L149.05 533.7 L150.05 533.71 L151.05 533.71 L152.05 533.72 L153.05 533.72 L154.05 533.73 L155.05 533.73 L156.05 533.73 L157.05 533.74 L158.05 533.74 L159.05 533.75 L160.05 533.75 L161.05 533.76 L162.05 533.76 L163.05 533.77 L164.05 533.77 L165.05 533.78 L166.05 533.79 L167.05 533.79 L168.05 533.8 L169.05 533.8 L170.05 533.81 L171.05 533.81 L172.05 533.82 L173.05 533.83 L174.05 533.83 L175.05 533.84 L176.05 533.85 L177.05 533.85 L178.05 533.86 L179.05 533.87 L180.05 533.87 L181.05 533.88 L182.05 533.89 L183.05 533.9 L184.05 533.9 L185.05 533.91 L186.05 533.92 L187.05 533.93 L188.05 533.93 L189.05 533.94 L190.05 533.95 L191.05 533.96 L192.05 533.97 L193.05 533.98 L194.05 533.99 L195.05 534 L196.05 534 L197.05 534.01 L198.05 534.02 L199.05 534.03 L200.05 534.04 L201.05 534.05 L202.05 534.06 L203.05 534.07 L204.05 534.09 L205.05 534.1 L206.05 534.11 L207.05 534.12 L208.05 534.13 L209.05 534.14 L210.05 534.15 L211.05 534.17 L212.05 534.18 L213.05 534.19 L214.05 534.2 L215.05 534.21 L216.05 534.23 L217.05 534.24 L218.05 534.25 L219.05 534.27 L220.05 534.28 L221.05 534.3 L222.05 534.31 L223.05 534.32 L224.05 534.34 L225.05 534.35 L226.05 534.37 L227.05 534.39 L228.05 534.4 L229.05 534.42 L230.05 534.43 L231.05 534.45 L232.05 534.47 L233.05 534.48 L234.05 534.5 L235.05 534.52 L236.05 534.54 L237.05 534.55 L238.05 534.57 L239.05 534.59 L240.05 534.61 L241.05 534.63 L242.05 534.65 L243.05 534.67 L244.05 534.69 L245.05 534.71 L246.05 534.73 L247.05 534.75 L248.05 534.77 L249.05 534.8 L250.05 534.82 L251.05 534.84 L252.05 534.86 L253.05 534.89 L254.05 534.91 L255.05 534.93 L256.05 534.96 L257.05 534.98 L258.05 535.01 L259.05 535.03 L260.05 535.06 L261.05 535.08 L262.05 535.11 L263.05 535.14 L264.05 535.16 L265.05 535.19 L266.05 535.22 L267.05 535.25 L268.05 535.28 L269.05 535.31 L270.05 535.33 L271.05 535.37 L272.05 535.4 L273.05 535.43 L274.05 535.46 L275.05 535.49 L276.05 535.52 L277.05 535.56 L278.05 535.59 L279.05 535.62 L280.05 535.66 L281.05 535.69 L282.05 535.73 L283.05 535.76 L284.05 535.8 L285.05 535.84 L286.05 535.87 L287.05 535.91 L288.05 535.95 L289.05 535.99 L290.05 536.03 L291.05 536.07 L292.05 536.11 L293.05 536.15 L294.05 536.19 L295.05 536.24 L296.05 536.28 L297.05 536.32 L298.05 536.37 L299.05 536.41 L300.05 536.46 L301.05 536.51 L302.05 536.55 L303.05 536.6 L304.05 536.65 L305.05 536.7 L306.05 536.75 L307.05 536.8 L308.05 536.86 L309.05 536.91 L310.05 536.96 L311.05 537.02 L312.05 537.07 L313.05 537.13 L314.05 537.19 L315.05 537.24 L316.05 537.3 L317.05 537.36 L318.05 537.43 L319.05 537.49 L320.05 537.55 L321.05 537.62 L322.05 537.68 L323.05 537.75 L324.05 537.82 L325.05 537.89 L326.05 537.96 L327.05 538.03 L328.05 538.1 L329.05 538.17 L330.05 538.25 L331.05 538.33 L332.05 538.41 L333.05 538.49 L334.05 538.57 L335.05 538.65 L336.05 538.73 L337.05 538.82 L338.05 538.91 L339.05 539 L340.05 539.09 L341.05 539.18 L342.05 539.27 L343.05 539.37 L344.05 539.47 L345.05 539.57 L346.05 539.67 L347.05 539.78 L348.05 539.88 L349.05 539.99 L350.05 540.1 L351.05 540.21 L352.05 540.33 L353.05 540.45 L354.05 540.57 L355.05 540.69 L356.05 540.81 L357.05 540.94 L358.05 541.07 L359.05 541.2 L360.05 541.34 L361.05 541.47 L362.05 541.61 L363.05 541.76 L364.05 541.9 L365.05 542.05 L366.05 542.21 L367.05 542.36 L368.05 542.52 L369.05 542.68 L370.05 542.85 L371.05 543.02 L372.05 543.19 L373.05 543.36 L374.05 543.54 L375.05 543.73 L376.05 543.91 L377.05 544.1 L378.05 544.29 L379.05 544.49 L380.05 544.69 L381.05 544.9 L382.05 545.1 L383.05 545.32 L384.05 545.53 L385.05 545.75 L386.05 545.98 L387.05 546.21 L388.05 546.44 L389.05 546.67 L390.05 546.91 L391.05 547.16 L392.05 547.41 L393.05 547.66 L394.05 547.92 L395.05 548.18 L396.05 548.44 L397.05 548.71 L398.05 548.98 L399.05 549.26 L400.05 549.54 L401.05 549.83 L402.05 550.11 L403.05 550.41 L404.05 550.7 L405.05 551 L406.05 551.3 L407.05 551.61 L408.05 551.92 L409.05 552.23 L410.05 552.55 L411.05 552.87 L412.05 553.19 L413.05 553.51 L414.05 553.84 L415.05 554.17 L416.05 554.5 L417.05 554.84 L418.05 555.17 L419.05 555.51 L420.05 555.84 L421.05 556.18 L422.05 556.52 L423.05 556.86 L424.05 557.2 L425.05 557.54 L426.05 557.88 L427.05 558.21 L428.05 558.55 L429.05 558.88 L430.05 559.21 L431.05 559.54 L432.05 559.87 L433.05 560.19 L434.05 560.51 L435.05 560.82 L436.05 561.13 L437.05 561.43 L438.05 561.73 L439.05 562.02 L440.05 562.3 L441.05 562.58 L442.05 562.84 L443.05 563.1 L444.05 563.34 L445.05 563.58 L446.05 563.8 L447.05 564.01 L448.05 564.21 L449.05 564.39 L450.05 564.56 L451.05 564.72 L452.05 564.85 L453.05 564.97 L454.05 565.07 L455.05 565.15 L456.05 565.21 L457.05 565.25 L458.05 565.27 L459.05 565.26 L460.05 565.23 L461.05 565.17 L462.05 565.09 L463.05 564.98 L464.05 564.84 L465.05 564.67 L466.05 564.46 L467.05 564.23 L468.05 563.96 L469.05 563.66 L470.05 563.31 L471.05 562.94 L472.05 562.52 L473.05 562.06 L474.05 561.56 L475.05 561.02 L476.05 560.43 L477.05 559.8 L478.05 559.12 L479.05 558.39 L480.05 557.61 L481.05 556.78 L482.05 555.89 L483.05 554.96 L484.05 553.96 L485.05 552.91 L486.05 551.8 L487.05 550.63 L488.05 549.4 L489.05 548.11 L490.05 546.75 L491.05 545.32 L492.05 543.83 L493.05 542.27 L494.05 540.64 L495.05 538.94 L496.05 537.16 L497.05 535.31 L498.05 533.39 L499.05 531.39 L500.05 529.31 L501.05 527.15 L502.05 524.91 L503.05 522.59 L504.05 520.19 L505.05 517.7 L506.05 515.13 L507.05 512.47 L508.05 509.73 L509.05 506.9 L510.05 503.98 L511.05 500.97 L512.05 497.87 L513.05 494.68 L514.05 491.4 L515.05 488.03 L516.05 484.56 L517.05 481 L518.05 477.35 L519.05 473.61 L520.05 469.78 L521.05 465.85 L522.05 461.82 L523.05 457.71 L524.05 453.5 L525.05 449.2 L526.05 444.81 L527.05 440.33 L528.05 435.76 L529.05 431.1 L530.05 426.35 L531.05 421.51 L532.05 416.59 L533.05 411.58 L534.05 406.49 L535.05 401.32 L536.05 396.07 L537.05 390.74 L538.05 385.34 L539.05 379.86 L540.05 374.31 L541.05 368.69 L542.05 363.01 L543.05 357.26 L544.05 351.46 L545.05 345.6 L546.05 339.68 L547.05 333.72 L548.05 327.71 L549.05 321.66 L550.05 315.57 L551.05 309.45 L552.05 303.29 L553.05 297.12 L554.05 290.92 L555.05 284.71 L556.05 278.48 L557.05 272.26 L558.05 266.03 L559.05 259.81 L560.05 253.6 L561.05 247.41 L562.05 241.24 L563.05 235.1 L564.05 229 L565.05 222.94 L566.05 216.92 L567.05 210.96 L568.05 205.07 L569.05 199.24 L570.05 193.49 L571.05 187.82 L572.05 182.24 L573.05 176.75 L574.05 171.37 L575.05 166.1 L576.05 160.94 L577.05 155.91 L578.05 151.01 L579.05 146.26 L580.05 141.64 L581.05 137.18 L582.05 132.88 L583.05 128.74 L584.05 124.78 L585.05 121 L586.05 117.4 L587.05 114 L588.05 110.8 L589.05 107.8 L590.05 105.01 L591.05 102.44 L592.05 100.09 L593.05 97.97 L594.05 96.07 L595.05 94.42 L596.05 93.01 L597.05 91.84 L598.05 90.91 L599.05 90.24 L600.05 89.83 L601.05 89.67 L602.05 89.77 L603.05 90.13 L604.05 90.75 L605.05 91.64 L606.05 92.79 L607.05 94.2 L608.05 95.88 L609.05 97.82 L610.05 100.02 L611.05 102.48 L612.05 105.2 L613.05 108.17 L614.05 111.4 L615.05 114.87 L616.05 118.58 L617.05 122.54 L618.05 126.73 L619.05 131.14 L620.05 135.78 L621.05 140.64 L622.05 145.71 L623.05 150.97 L624.05 156.44 L625.05 162.09 L626.05 167.91 L627.05 173.91 L628.05 180.07 L629.05 186.38 L630.05 192.84 L631.05 199.42 L632.05 206.13 L633.05 212.96 L634.05 219.88 L635.05 226.9 L636.05 233.99 L637.05 241.16 L638.05 248.39 L639.05 255.67 L640.05 262.98 L641.05 270.33 L642.05 277.69 L643.05 285.05 L644.05 292.42 L645.05 299.76 L646.05 307.09 L647.05 314.38 L648.05 321.63 L649.05 328.82 L650.05 335.95 L651.05 343.01 L652.05 349.99 L653.05 356.88 L654.05 363.68 L655.05 370.37 L656.05 376.96 L657.05 383.43 L658.05 389.77 L659.05 395.99 L660.05 402.07 L661.05 408.02 L662.05 413.82 L663.05 419.47 L664.05 424.98 L665.05 430.33 L666.05 435.52 L667.05 440.56 L668.05 445.44 L669.05 450.16 L670.05 454.71 L671.05 459.11 L672.05 463.34 L673.05 467.41 L674.05 471.32 L675.05 475.07 L676.05 478.66 L677.05 482.1 L678.05 485.38 L679.05 488.52 L680.05 491.5 L681.05 494.34 L682.05 497.03 L683.05 499.59 L684.05 502.01 L685.05 504.29 L686.05 506.45 L687.05 508.49 L688.05 510.41 L689.05 512.21 L690.05 513.9 L691.05 515.48 L692.05 516.96 L693.05 518.34 L694.05 519.63 L695.05 520.83 L696.05 521.94 L697.05 522.97 L698.05 523.93 L699.05 524.81 L700.05 525.63 L701.05 526.38 L702.05 527.07 L703.05 527.7 L704.05 528.27 L705.05 528.8 L706.05 529.28 L707.05 529.72 L708.05 530.12 L709.05 530.47 L710.05 530.8 L711.05 531.09 L712.05 531.35 L713.05 531.59 L714.05 531.8 L715.05 531.99 L716.05 532.15 L717.05 532.3 L718.05 532.43 L719.05 532.55 L720.05 532.65 L721.05 532.74 L722.05 532.81 L723.05 532.88 L724.05 532.94 L725.05 532.99 L726.05 533.03 L727.05 533.07 L728.05 533.1 L729.05 533.13 L730.05 533.15 L731.05 533.17 L732.05 533.18 L733.05 533.19 L734.05 533.2 L735.05 533.21 L736.05 533.22 L737.05 533.22 L738.05 533.23 L739.05 533.23 L740.05 533.23 L741.05 533.24 L742.05 533.24 L743.05 533.24 L744.05 533.24 L745.05 533.24 L746.05 533.25 L747.05 533.25 L748.05 533.25 L749.05 533.25 L750.05 533.25 L751.05 533.25 L752.05 533.26 L753.05 533.26 L754.05 533.26 L755.05 533.26 L756.05 533.27 L757.05 533.27 L758.05 533.27 L759.05 533.28 L760.05 533.28 L761.05 533.28 L762.05 533.29 L763.05 533.29 L764.05 533.3 L765.05 533.3 L766.05 533.3 L767.05 533.31 L768.05 533.31 L769.05 533.32 L770.05 533.32 L771.05 533.33 L772.05 533.33 L773.05 533.34 L774.05 533.34 L775.05 533.34 L776.05 533.35 L777.05 533.35 L778.05 533.36 L779.05 533.36 L780.05 533.37 L781.05 533.37 L782.05 533.37 L783.05 533.38 L784.05 533.38 L785.05 533.39 L786.05 533.39 L787.05 533.39 L788.05 533.4 L789.05 533.4 L790.05 533.41 L791.05 533.41 L792.05 533.41 L793.05 533.42 L794.05 533.42 L795.05 533.42 L796.05 533.42 L797.2 533.43" stroke="#000" stroke-width="2.3"/>
<path d="M80.05 533.46 L81.05 533.46 L82.05 533.46 L83.05 533.46 L84.05 533.46 L85.05 533.46 L86.05 533.46 L87.05 533.45 L88.05 533.45 L89.05 533.45 L90.05 533.45 L91.05 533.45 L92.05 533.45 L93.05 533.45 L94.05 533.45 L95.05 533.45 L96.05 533.45 L97.05 533.45 L98.05 533.45 L99.05 533.45 L100.05 533.45 L101.05 533.45 L102.05 533.45 L103.05 533.45 L104.05 533.45 L105.05 533.45 L106.05 533.44 L107.05 533.44 L108.05 533.44 L109.05 533.44 L110.05 533.44 L111.05 533.44 L112.05 533.44 L113.05 533.44 L114.05 533.44 L115.05 533.44 L116.05 533.44 L117.05 533.44 L118.05 533.44 L119.05 533.44 L120.05 533.44 L121.05 533.44 L122.05 533.44 L123.05 533.44 L124.05 533.44 L125.05 533.44 L126.05 533.43 L127.05 533.43 L128.05 533.43 L129.05 533.43 L130.05 533.43 L131.05 533.43 L132.05 533.43 L133.05 533.43 L134.05 533.43 L135.05 533.43 L136.05 533.43 L137.05 533.43 L138.05 533.43 L139.05 533.43 L140.05 533.43 L141.05 533.43 L142.05 533.43 L143.05 533.43 L144.05 533.43 L145.05 533.43 L146.05 533.43 L147.05 533.43 L148.05 533.43 L149.05 533.43 L150.05 533.43 L151.05 533.43 L152.05 533.43 L153.05 533.43 L154.05 533.43 L155.05 533.43 L156.05 533.43 L157.05 533.43 L158.05 533.43 L159.05 533.43 L160.05 533.43 L161.05 533.43 L162.05 533.43 L163.05 533.43 L164.05 533.43 L165.05 533.43 L166.05 533.43 L167.05 533.43 L168.05 533.43 L169.05 533.43 L170.05 533.43 L171.05 533.43 L172.05 533.43 L173.05 533.44 L174.05 533.44 L175.05 533.44 L176.05 533.44 L177.05 533.44 L178.05 533.44 L179.05 533.44 L180.05 533.44 L181.05 533.44 L182.05 533.44 L183.05 533.45 L184.05 533.45 L185.05 533.45 L186.05 533.45 L187.05 533.45 L188.05 533.45 L189.05 533.46 L190.05 533.46 L191.05 533.46 L192.05 533.46 L193.05 533.46 L194.05 533.47 L195.05 533.47 L196.05 533.47 L197.05 533.47 L198.05 533.48 L199.05 533.48 L200.05 533.48 L201.05 533.48 L202.05 533.49 L203.05 533.49 L204.05 533.49 L205.05 533.5 L206.05 533.5 L207.05 533.5 L208.05 533.51 L209.05 533.51 L210.05 533.52 L211.05 533.52 L212.05 533.52 L213.05 533.53 L214.05 533.53 L215.05 533.54 L216.05 533.54 L217.05 533.55 L218.05 533.55 L219.05 533.56 L220.05 533.56 L221.05 533.57 L222.05 533.58 L223.05 533.58 L224.05 533.59 L225.05 533.59 L226.05 533.6 L227.05 533.61 L228.05 533.61 L229.05 533.62 L230.05 533.63 L231.05 533.64 L232.05 533.64 L233.05 533.65 L234.05 533.66 L235.05 533.67 L236.05 533.68 L237.05 533.69 L238.05 533.7 L239.05 533.71 L240.05 533.72 L241.05 533.73 L242.05 533.74 L243.05 533.75 L244.05 533.76 L245.05 533.77 L246.05 533.78 L247.05 533.79 L248.05 533.8 L249.05 533.82 L250.05 533.83 L251.05 533.84 L252.05 533.86 L253.05 533.87 L254.05 533.88 L255.05 533.9 L256.05 533.91 L257.05 533.93 L258.05 533.94 L259.05 533.96 L260.05 533.97 L261.05 533.99 L262.05 534.01 L263.05 534.03 L264.05 534.04 L265.05 534.06 L266.05 534.08 L267.05 534.1 L268.05 534.12 L269.05 534.14 L270.05 534.16 L271.05 534.18 L272.05 534.2 L273.05 534.22 L274.05 534.24 L275.05 534.27 L276.05 534.29 L277.05 534.31 L278.05 534.34 L279.05 534.36 L280.05 534.39 L281.05 534.41 L282.05 534.44 L283.05 534.47 L284.05 534.49 L285.05 534.52 L286.05 534.55 L287.05 534.58 L288.05 534.61 L289.05 534.64 L290.05 534.67 L291.05 534.7 L292.05 534.73 L293.05 534.76 L294.05 534.8 L295.05 534.83 L296.05 534.87 L297.05 534.9 L298.05 534.94 L299.05 534.97 L300.05 535.01 L301.05 535.05 L302.05 535.09 L303.05 535.13 L304.05 535.17 L305.05 535.21 L306.05 535.25 L307.05 535.29 L308.05 535.33 L309.05 535.38 L310.05 535.42 L311.05 535.47 L312.05 535.51 L313.05 535.56 L314.05 535.61 L315.05 535.66 L316.05 535.71 L317.05 535.76 L318.05 535.81 L319.05 535.86 L320.05 535.91 L321.05 535.97 L322.05 536.02 L323.05 536.08 L324.05 536.13 L325.05 536.19 L326.05 536.25 L327.05 536.31 L328.05 536.37 L329.05 536.43 L330.05 536.49 L331.05 536.56 L332.05 536.62 L333.05 536.69 L334.05 536.75 L335.05 536.82 L336.05 536.89 L337.05 536.96 L338.05 537.03 L339.05 537.1 L340.05 537.17 L341.05 537.25 L342.05 537.32 L343.05 537.4 L344.05 537.48 L345.05 537.56 L346.05 537.64 L347.05 537.72 L348.05 537.8 L349.05 537.88 L350.05 537.97 L351.05 538.06 L352.05 538.14 L353.05 538.23 L354.05 538.33 L355.05 538.42 L356.05 538.51 L357.05 538.61 L358.05 538.7 L359.05 538.8 L360.05 538.9 L361.05 539 L362.05 539.11 L363.05 539.21 L364.05 539.32 L365.05 539.43 L366.05 539.54 L367.05 539.65 L368.05 539.77 L369.05 539.88 L370.05 540 L371.05 540.12 L372.05 540.24 L373.05 540.37 L374.05 540.49 L375.05 540.62 L376.05 540.75 L377.05 540.89 L378.05 541.02 L379.05 541.16 L380.05 541.3 L381.05 541.44 L382.05 541.59 L383.05 541.74 L384.05 541.89 L385.05 542.04 L386.05 542.2 L387.05 542.36 L388.05 542.52 L389.05 542.69 L390.05 542.86 L391.05 543.03 L392.05 543.21 L393.05 543.38 L394.05 543.57 L395.05 543.75 L396.05 543.94 L397.05 544.13 L398.05 544.33 L399.05 544.53 L400.05 544.73 L401.05 544.94 L402.05 545.15 L403.05 545.37 L404.05 545.58 L405.05 545.81 L406.05 546.03 L407.05 546.27 L408.05 546.5 L409.05 546.74 L410.05 546.98 L411.05 547.23 L412.05 547.48 L413.05 547.74 L414.05 548 L415.05 548.26 L416.05 548.53 L417.05 548.81 L418.05 549.08 L419.05 549.37 L420.05 549.65 L421.05 549.94 L422.05 550.24 L423.05 550.53 L424.05 550.84 L425.05 551.14 L426.05 551.45 L427.05 551.76 L428.05 552.08 L429.05 552.4 L430.05 552.72 L431.05 553.05 L432.05 553.37 L433.05 553.7 L434.05 554.04 L435.05 554.37 L436.05 554.71 L437.05 555.04 L438.05 555.38 L439.05 555.72 L440.05 556.06 L441.05 556.39 L442.05 556.73 L443.05 557.07 L444.05 557.4 L445.05 557.74 L446.05 558.07 L447.05 558.39 L448.05 558.71 L449.05 559.03 L450.05 559.34 L451.05 559.65 L452.05 559.95 L453.05 560.24 L454.05 560.53 L455.05 560.8 L456.05 561.07 L457.05 561.32 L458.05 561.56 L459.05 561.79 L460.05 562.01 L461.05 562.21 L462.05 562.39 L463.05 562.56 L464.05 562.71 L465.05 562.83 L466.05 562.94 L467.05 563.03 L468.05 563.09 L469.05 563.12 L470.05 563.13 L471.05 563.11 L472.05 563.06 L473.05 562.99 L474.05 562.87 L475.05 562.73 L476.05 562.55 L477.05 562.33 L478.05 562.07 L479.05 561.77 L480.05 561.42 L481.05 561.04 L482.05 560.6 L483.05 560.12 L484.05 559.59 L485.05 559 L486.05 558.36 L487.05 557.67 L488.05 556.92 L489.05 556.1 L490.05 555.23 L491.05 554.29 L492.05 553.28 L493.05 552.21 L494.05 551.07 L495.05 549.85 L496.05 548.56 L497.05 547.19 L498.05 545.75 L499.05 544.22 L500.05 542.61 L501.05 540.92 L502.05 539.14 L503.05 537.27 L504.05 535.32 L505.05 533.27 L506.05 531.13 L507.05 528.89 L508.05 526.55 L509.05 524.12 L510.05 521.58 L511.05 518.94 L512.05 516.2 L513.05 513.36 L514.05 510.41 L515.05 507.35 L516.05 504.18 L517.05 500.9 L518.05 497.51 L519.05 494.01 L520.05 490.39 L521.05 486.67 L522.05 482.83 L523.05 478.87 L524.05 474.8 L525.05 470.62 L526.05 466.32 L527.05 461.91 L528.05 457.38 L529.05 452.74 L530.05 447.99 L531.05 443.13 L532.05 438.15 L533.05 433.06 L534.05 427.87 L535.05 422.56 L536.05 417.16 L537.05 411.64 L538.05 406.03 L539.05 400.31 L540.05 394.5 L541.05 388.6 L542.05 382.6 L543.05 376.51 L544.05 370.34 L545.05 364.09 L546.05 357.76 L547.05 351.35 L548.05 344.87 L549.05 338.33 L550.05 331.73 L551.05 325.07 L552.05 318.37 L553.05 311.61 L554.05 304.82 L555.05 297.99 L556.05 291.13 L557.05 284.25 L558.05 277.35 L559.05 270.45 L560.05 263.54 L561.05 256.63 L562.05 249.74 L563.05 242.87 L564.05 236.02 L565.05 229.2 L566.05 222.43 L567.05 215.7 L568.05 209.03 L569.05 202.43 L570.05 195.9 L571.05 189.45 L572.05 183.09 L573.05 176.83 L574.05 170.68 L575.05 164.64 L576.05 158.73 L577.05 152.95 L578.05 147.31 L579.05 141.82 L580.05 136.49 L581.05 131.33 L582.05 126.34 L583.05 121.53 L584.05 116.92 L585.05 112.51 L586.05 108.3 L587.05 104.3 L588.05 100.53 L589.05 96.99 L590.05 93.68 L591.05 90.62 L592.05 87.8 L593.05 85.24 L594.05 82.94 L595.05 80.91 L596.05 79.14 L597.05 77.65 L598.05 76.44 L599.05 75.52 L600.05 74.88 L601.05 74.52 L602.05 74.46 L603.05 74.7 L604.05 75.22 L605.05 76.05 L606.05 77.16 L607.05 78.58 L608.05 80.28 L609.05 82.28 L610.05 84.58 L611.05 87.16 L612.05 90.02 L613.05 93.17 L614.05 96.6 L615.05 100.3 L616.05 104.27 L617.05 108.5 L618.05 112.99 L619.05 117.73 L620.05 122.71 L621.05 127.93 L622.05 133.37 L623.05 139.03 L624.05 144.9 L625.05 150.97 L626.05 157.23 L627.05 163.68 L628.05 170.29 L629.05 177.06 L630.05 183.97 L631.05 191.03 L632.05 198.2 L633.05 205.5 L634.05 212.89 L635.05 220.37 L636.05 227.93 L637.05 235.56 L638.05 243.24 L639.05 250.96 L640.05 258.71 L641.05 266.48 L642.05 274.26 L643.05 282.03 L644.05 289.78 L645.05 297.51 L646.05 305.19 L647.05 312.83 L648.05 320.41 L649.05 327.92 L650.05 335.35 L651.05 342.69 L652.05 349.93 L653.05 357.07 L654.05 364.1 L655.05 371 L656.05 377.78 L657.05 384.42 L658.05 390.92 L659.05 397.28 L660.05 403.49 L661.05 409.54 L662.05 415.44 L663.05 421.17 L664.05 426.73 L665.05 432.13 L666.05 437.36 L667.05 442.42 L668.05 447.31 L669.05 452.02 L670.05 456.56 L671.05 460.93 L672.05 465.13 L673.05 469.16 L674.05 473.02 L675.05 476.72 L676.05 480.25 L677.05 483.62 L678.05 486.83 L679.05 489.89 L680.05 492.79 L681.05 495.55 L682.05 498.16 L683.05 500.63 L684.05 502.97 L685.05 505.17 L686.05 507.25 L687.05 509.2 L688.05 511.04 L689.05 512.76 L690.05 514.37 L691.05 515.88 L692.05 517.29 L693.05 518.61 L694.05 519.83 L695.05 520.97 L696.05 522.03 L697.05 523 L698.05 523.91 L699.05 524.75 L700.05 525.52 L701.05 526.23 L702.05 526.89 L703.05 527.49 L704.05 528.04 L705.05 528.55 L706.05 529.01 L707.05 529.43 L708.05 529.82 L709.05 530.17 L710.05 530.48 L711.05 530.77 L712.05 531.03 L713.05 531.27 L714.05 531.48 L715.05 531.68 L716.05 531.85 L717.05 532.01 L718.05 532.15 L719.05 532.28 L720.05 532.39 L721.05 532.49 L722.05 532.59 L723.05 532.67 L724.05 532.74 L725.05 532.81 L726.05 532.87 L727.05 532.92 L728.05 532.97 L729.05 533.01 L730.05 533.05 L731.05 533.08 L732.05 533.11 L733.05 533.14 L734.05 533.16 L735.05 533.19 L736.05 533.21 L737.05 533.22 L738.05 533.24 L739.05 533.26 L740.05 533.27 L741.05 533.28 L742.05 533.3 L743.05 533.31 L744.05 533.32 L745.05 533.33 L746.05 533.34 L747.05 533.34 L748.05 533.35 L749.05 533.36 L750.05 533.37 L751.05 533.37 L752.05 533.38 L753.05 533.39 L754.05 533.39 L755.05 533.4 L756.05 533.4 L757.05 533.41 L758.05 533.41 L759.05 533.42 L760.05 533.42 L761.05 533.42 L762.05 533.43 L763.05 533.43 L764.05 533.44 L765.05 533.44 L766.05 533.44 L767.05 533.44 L768.05 533.45 L769.05 533.45 L770.05 533.45 L771.05 533.46 L772.05 533.46 L773.05 533.46 L774.05 533.46 L775.05 533.46 L776.05 533.47 L777.05 533.47 L778.05 533.47 L779.05 533.47 L780.05 533.47 L781.05 533.48 L782.05 533.48 L783.05 533.48 L784.05 533.48 L785.05 533.48 L786.05 533.48 L787.05 533.48 L788.05 533.48 L789.05 533.49 L790.05 533.49 L791.05 533.49 L792.05 533.49 L793.05 533.49 L794.05 533.49 L795.05 533.49 L796.05 533.49 L797.2 533.49" stroke="#9400d3" stroke-width="2.3" stroke-dasharray="10 6 2 6 10 6"/>
</g>
<g stroke="#000" stroke-width="1.3" fill="none">
<rect x="80.05" y="66.6" width="717.15" height="533.6"/>
<path d="M145.45 600.2 v-6.5 M145.45 66.6 v6.5 M183.7 600.2 v-6.5 M183.7 66.6 v6.5 M210.85 600.2 v-6.5 M210.85 66.6 v6.5 M231.9 600.2 v-6.5 M231.9 66.6 v6.5 M249.1 600.2 v-6.5 M249.1 66.6 v6.5 M263.65 600.2 v-6.5 M263.65 66.6 v6.5 M276.25 600.2 v-6.5 M276.25 66.6 v6.5 M287.36 600.2 v-6.5 M287.36 66.6 v6.5 M297.3 600.2 v-13.1 M297.3 66.6 v13.1 M362.7 600.2 v-6.5 M362.7 66.6 v6.5 M400.96 600.2 v-6.5 M400.96 66.6 v6.5 M428.1 600.2 v-6.5 M428.1 66.6 v6.5 M449.15 600.2 v-6.5 M449.15 66.6 v6.5 M466.35 600.2 v-6.5 M466.35 66.6 v6.5 M480.9 600.2 v-6.5 M480.9 66.6 v6.5 M493.5 600.2 v-6.5 M493.5 66.6 v6.5 M504.61 600.2 v-6.5 M504.61 66.6 v6.5 M514.55 600.2 v-13.1 M514.55 66.6 v13.1 M579.95 600.2 v-6.5 M579.95 66.6 v6.5 M618.21 600.2 v-6.5 M618.21 66.6 v6.5 M645.35 600.2 v-6.5 M645.35 66.6 v6.5 M666.4 600.2 v-6.5 M666.4 66.6 v6.5 M683.6 600.2 v-6.5 M683.6 66.6 v6.5 M698.15 600.2 v-6.5 M698.15 66.6 v6.5 M710.75 600.2 v-6.5 M710.75 66.6 v6.5 M721.86 600.2 v-6.5 M721.86 66.6 v6.5 M731.8 600.2 v-13.1 M731.8 66.6 v13.1 M80.05 583.53 h6.5 M797.2 583.53 h-6.5 M80.05 566.85 h6.5 M797.2 566.85 h-6.5 M80.05 550.18 h6.5 M797.2 550.18 h-6.5 M80.05 533.5 h13.1 M797.2 533.5 h-13.1 M80.05 516.83 h6.5 M797.2 516.83 h-6.5 M80.05 500.15 h6.5 M797.2 500.15 h-6.5 M80.05 483.48 h6.5 M797.2 483.48 h-6.5 M80.05 466.8 h13.1 M797.2 466.8 h-13.1 M80.05 450.12 h6.5 M797.2 450.12 h-6.5 M80.05 433.45 h6.5 M797.2 433.45 h-6.5 M80.05 416.78 h6.5 M797.2 416.78 h-6.5 M80.05 400.1 h13.1 M797.2 400.1 h-13.1 M80.05 383.43 h6.5 M797.2 383.43 h-6.5 M80.05 366.75 h6.5 M797.2 366.75 h-6.5 M80.05 350.08 h6.5 M797.2 350.08 h-6.5 M80.05 333.4 h13.1 M797.2 333.4 h-13.1 M80.05 316.73 h6.5 M797.2 316.73 h-6.5 M80.05 300.05 h6.5 M797.2 300.05 h-6.5 M80.05 283.38 h6.5 M797.2 283.38 h-6.5 M80.05 266.7 h13.1 M797.2 266.7 h-13.1 M80.05 250.03 h6.5 M797.2 250.03 h-6.5 M80.05 233.35 h6.5 M797.2 233.35 h-6.5 M80.05 216.68 h6.5 M797.2 216.68 h-6.5 M80.05 200 h13.1 M797.2 200 h-13.1 M80.05 183.33 h6.5 M797.2 183.33 h-6.5 M80.05 166.65 h6.5 M797.2 166.65 h-6.5 M80.05 149.98 h6.5 M797.2 149.98 h-6.5 M80.05 133.3 h13.1 M797.2 133.3 h-13.1 M80.05 116.62 h6.5 M797.2 116.62 h-6.5 M80.05 99.95 h6.5 M797.2 99.95 h-6.5 M80.05 83.27 h6.5 M797.2 83.27 h-6.5"/>
</g>
<g font-size="19">
<text x="39.55" y="606.85">-100</text>
<text x="64.86" y="540.15">0</text>
<text x="45.86" y="473.45">100</text>
<text x="45.86" y="406.75">200</text>
<text x="45.86" y="340.05">300</text>
<text x="45.86" y="273.35">400</text>
<text x="45.86" y="206.65">500</text>
<text x="45.86" y="139.95">600</text>
<text x="45.86" y="73.25">700</text>
<text x="75.84" y="620.05">1</text>
<text x="288.13" y="620.05">10</text>
<text x="500.63" y="620.05">100</text>
<text x="713.13" y="620.05">1000</text>
</g>
<text x="402.48" y="642" font-size="24.5">ν</text>
<text x="420.26" y="642" font-size="22.2">[GHz]</text>
<g transform="rotate(-90)">
<text x="-495.78" y="28.3" font-size="22.2" class="it">G</text>
<text x="-479.43" y="36.7" font-size="15.8">in</text>
<text x="-467.13" y="28.3" font-size="22.2">(</text>
<text x="-460.12" y="28.3" font-size="24.5">ν</text>
<text x="-448.31" y="36.7" font-size="15.8">i</text>
<text x="-442.85" y="28.3" font-size="22.2">,</text>
<text x="-437.87" y="28.3" font-size="24.5">ν</text>
<text x="-425.7" y="28.3" font-size="22.2">,</text>
<text x="-414.4" y="28.3" font-size="22.2" class="it">z</text>
<text x="-405.76" y="36.7" font-size="15.8">i</text>
<text x="-401.73" y="28.3" font-size="22.2">)</text>
<text x="-382.58" y="28.3" font-size="22.2">[</text>
<text x="-369.2" y="28.3" font-size="22.2">10</text>
<text x="-347.28" y="14.8" font-size="15.8">-18</text>
<text x="-320.41" y="28.3" font-size="22.2">W</text>
<text x="-293.54" y="28.3" font-size="22.2">m</text>
<text x="-275.54" y="14.8" font-size="15.8">-2</text>
<text x="-256.96" y="28.3" font-size="22.2">Hz</text>
<text x="-232" y="14.8" font-size="15.8">-1</text>
<text x="-215.58" y="28.3" font-size="22.2">sr</text>
<text x="-196.75" y="14.8" font-size="15.8">-1</text>
<text x="-176.37" y="28.3" font-size="22.2">]</text>
</g>
<g fill="none">
<path d="M127.9 121.75 H208" stroke="#000" stroke-width="1.15" stroke-dasharray="1 3 5 3"/>
<path d="M127.9 158.93 H205" stroke="#000" stroke-width="1.15" stroke-dasharray="5 3"/>
<path d="M127.9 196.11 H205" stroke="#f00" stroke-width="1.15" stroke-dasharray="1 3 1 3 5 3" stroke-dashoffset="4"/>
<path d="M127.9 233.29 H208" stroke="#000" stroke-width="1.15"/>
<path d="M127.9 270.47 H202" stroke="#00f" stroke-width="2.3" stroke-dasharray="2 6 10 6"/>
<path d="M127.9 307.65 H202" stroke="#f00" stroke-width="2.3" stroke-dasharray="10 6"/>
<path d="M127.9 344.83 H208" stroke="#000" stroke-width="2.3"/>
<path d="M127.9 382.01 H202" stroke="#9400d3" stroke-width="2.3" stroke-dasharray="10 6 2 6 10 6"/>
</g>
<text x="221.37" y="129.2" font-size="20.3" class="it">z</text><text x="229.23" y="136.4" font-size="14.8">i</text><text x="238.72" y="131.5" font-size="20.3">=</text><text x="255" y="129.2" font-size="20.3">3</text><text x="271.53" y="129.2" font-size="20.3" class="sans">x</text><text x="287.69" y="129.2" font-size="20.3">10</text><text x="307.02" y="117.2" font-size="14.8">5</text>
<text x="221.37" y="166.28" font-size="20.3" class="it">z</text><text x="229.23" y="173.48" font-size="14.8">i</text><text x="238.72" y="168.58" font-size="20.3">=</text><text x="255.18" y="166.28" font-size="20.3">2</text><text x="271.53" y="166.28" font-size="20.3" class="sans">x</text><text x="287.69" y="166.28" font-size="20.3">10</text><text x="307.02" y="154.28" font-size="14.8">5</text>
<text x="221.37" y="203.36" font-size="20.3" class="it">z</text><text x="229.23" y="210.56" font-size="14.8">i</text><text x="238.72" y="205.66" font-size="20.3">=</text><text x="255.33" y="203.36" font-size="20.3">1.5</text><text x="287" y="203.36" font-size="20.3" class="sans">x</text><text x="302.94" y="203.36" font-size="20.3">10</text><text x="322.42" y="191.36" font-size="14.8">5</text>
<text x="221.37" y="240.44" font-size="20.3" class="it">z</text><text x="229.23" y="247.64" font-size="14.8">i</text><text x="238.72" y="242.74" font-size="20.3">=</text><text x="256.14" y="240.44" font-size="20.3">10</text><text x="275.97" y="228.44" font-size="14.8">5</text>
<text x="221.37" y="277.52" font-size="20.3" class="it">z</text><text x="229.23" y="284.72" font-size="14.8">i</text><text x="238.72" y="279.82" font-size="20.3">=</text><text x="255.15" y="277.52" font-size="20.3">9</text><text x="271.53" y="277.52" font-size="20.3" class="sans">x</text><text x="287.69" y="277.52" font-size="20.3">10</text><text x="307.11" y="265.52" font-size="14.8">4</text>
<text x="221.37" y="314.6" font-size="20.3" class="it">z</text><text x="229.23" y="321.8" font-size="14.8">i</text><text x="238.72" y="316.9" font-size="20.3">=</text><text x="255.07" y="314.6" font-size="20.3">8</text><text x="271.53" y="314.6" font-size="20.3" class="sans">x</text><text x="287.69" y="314.6" font-size="20.3">10</text><text x="307.11" y="302.6" font-size="14.8">4</text>
<text x="221.37" y="351.68" font-size="20.3" class="it">z</text><text x="229.23" y="358.88" font-size="14.8">i</text><text x="238.72" y="353.98" font-size="20.3">=</text><text x="254.72" y="351.68" font-size="20.3">7</text><text x="271.53" y="351.68" font-size="20.3" class="sans">x</text><text x="287.69" y="351.68" font-size="20.3">10</text><text x="307.11" y="339.68" font-size="14.8">4</text>
<text x="221.37" y="388.76" font-size="20.3" class="it">z</text><text x="229.23" y="395.96" font-size="14.8">i</text><text x="238.72" y="391.06" font-size="20.3">=</text><text x="254.95" y="388.76" font-size="20.3">6</text><text x="271.53" y="388.76" font-size="20.3" class="sans">x</text><text x="287.69" y="388.76" font-size="20.3">10</text><text x="307.11" y="376.76" font-size="14.8">4</text>
<text x="666.76" y="170.6" font-size="23" class="it">x</text><text x="676.84" y="179.6" font-size="15.8">i</text><text x="686.5" y="173" font-size="23">=</text><text x="704.4" y="170.6" font-size="23">5</text>
</svg>
</body></html>
